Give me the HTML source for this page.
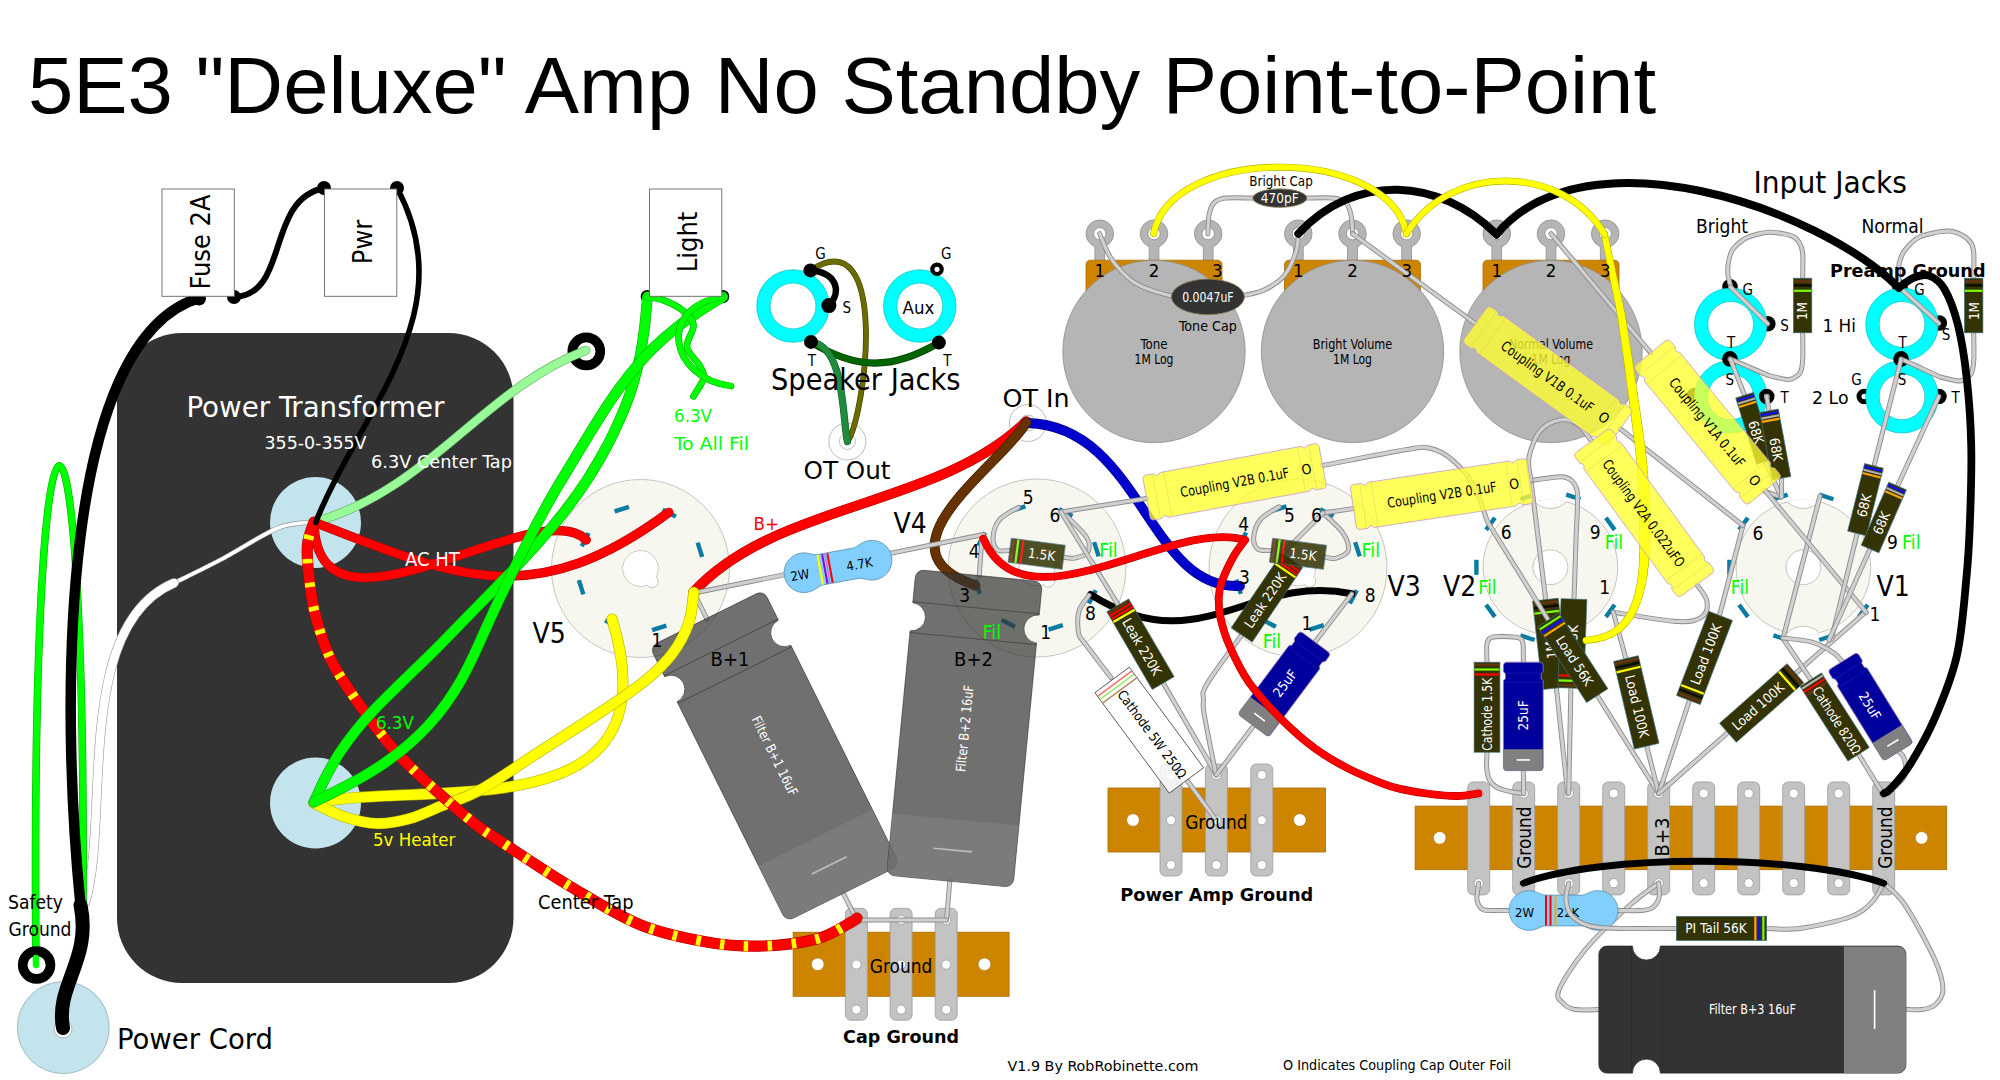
<!DOCTYPE html>
<html><head><meta charset="utf-8"><title>5E3 Deluxe Amp No Standby Point-to-Point</title>
<style>html,body{margin:0;padding:0;background:#fff}svg{display:block}text{white-space:pre}</style></head>
<body>
<svg width="2000" height="1080" viewBox="0 0 2000 1080">
<rect width="2000" height="1080" fill="#fff"/>
<rect x="117" y="333" width="396.5" height="650" fill="#333333" rx="65"/>
<circle cx="315.5" cy="522.5" r="45.5" fill="#c3e3ed"/>
<circle cx="315.5" cy="803" r="45.5" fill="#c3e3ed"/>
<circle cx="63.3" cy="1027.6" r="46" fill="#c3e3ed" stroke="#8fa3aa" stroke-width="0.7"/>
<circle cx="63" cy="1029" r="9" fill="#fff" stroke="#999" stroke-width="0.7"/>
<circle cx="313.5" cy="522.5" r="5" fill="#fff" stroke="#999" stroke-width="0.7"/>
<circle cx="313.5" cy="803" r="5" fill="#fff" stroke="#999" stroke-width="0.7"/>
<circle cx="847.4" cy="441.5" r="18.5" fill="#fff" stroke="#aaa" stroke-width="0.8"/>
<circle cx="847.4" cy="441.5" r="8" fill="#fff" stroke="#aaa" stroke-width="0.8"/>
<circle cx="1027.8" cy="423" r="18.5" fill="#fff" stroke="#aaa" stroke-width="0.8"/>
<circle cx="1027.8" cy="423" r="8" fill="#fff" stroke="#aaa" stroke-width="0.8"/>
<circle cx="640.5" cy="568.5" r="89" fill="#f7f7ef" stroke="#b8b8b0" stroke-width="0.8"/>
<circle cx="640.5" cy="568.5" r="17.8" fill="#fff" stroke="#b8b8b0" stroke-width="0.8"/>
<circle cx="652.0" cy="581.5" r="6.2" fill="#fff" stroke="#b8b8b0" stroke-width="0.8"/>
<circle cx="640.5" cy="568.5" r="17.2" fill="#fff"/>
<rect x="-2.2" y="-7.5" width="4.4" height="15" fill="#0a7ba3" transform="translate(621.8 509.1) rotate(-107.5)"/>
<rect x="-2.2" y="-7.5" width="4.4" height="15" fill="#0a7ba3" transform="translate(669.3 513.2) rotate(-62.5)"/>
<rect x="-2.2" y="-7.5" width="4.4" height="15" fill="#0a7ba3" transform="translate(699.9 549.8) rotate(-17.5)"/>
<rect x="-2.2" y="-7.5" width="4.4" height="15" fill="#0a7ba3" transform="translate(695.8 597.3) rotate(27.5)"/>
<rect x="-2.2" y="-7.5" width="4.4" height="15" fill="#0a7ba3" transform="translate(659.2 627.9) rotate(72.5)"/>
<rect x="-2.2" y="-7.5" width="4.4" height="15" fill="#0a7ba3" transform="translate(611.7 623.8) rotate(117.5)"/>
<rect x="-2.2" y="-7.5" width="4.4" height="15" fill="#0a7ba3" transform="translate(581.1 587.2) rotate(162.5)"/>
<rect x="-2.2" y="-7.5" width="4.4" height="15" fill="#0a7ba3" transform="translate(585.2 539.7) rotate(207.5)"/>
<circle cx="1037" cy="568" r="89" fill="#f7f7ef" stroke="#b8b8b0" stroke-width="0.8"/>
<circle cx="1037" cy="568" r="17.8" fill="#fff" stroke="#b8b8b0" stroke-width="0.8"/>
<circle cx="1048.5" cy="581" r="6.2" fill="#fff" stroke="#b8b8b0" stroke-width="0.8"/>
<circle cx="1037" cy="568" r="17.2" fill="#fff"/>
<rect x="-2.2" y="-7.5" width="4.4" height="15" fill="#0a7ba3" transform="translate(1018.3 508.6) rotate(-107.5)"/>
<rect x="-2.2" y="-7.5" width="4.4" height="15" fill="#0a7ba3" transform="translate(1065.8 512.7) rotate(-62.5)"/>
<rect x="-2.2" y="-7.5" width="4.4" height="15" fill="#0a7ba3" transform="translate(1096.4 549.3) rotate(-17.5)"/>
<rect x="-2.2" y="-7.5" width="4.4" height="15" fill="#0a7ba3" transform="translate(1092.3 596.8) rotate(27.5)"/>
<rect x="-2.2" y="-7.5" width="4.4" height="15" fill="#0a7ba3" transform="translate(1055.7 627.4) rotate(72.5)"/>
<rect x="-2.2" y="-7.5" width="4.4" height="15" fill="#0a7ba3" transform="translate(1008.2 623.3) rotate(117.5)"/>
<rect x="-2.2" y="-7.5" width="4.4" height="15" fill="#0a7ba3" transform="translate(977.6 586.7) rotate(162.5)"/>
<rect x="-2.2" y="-7.5" width="4.4" height="15" fill="#0a7ba3" transform="translate(981.7 539.2) rotate(207.5)"/>
<circle cx="1298" cy="568" r="89" fill="#f7f7ef" stroke="#b8b8b0" stroke-width="0.8"/>
<circle cx="1298" cy="568" r="17.8" fill="#fff" stroke="#b8b8b0" stroke-width="0.8"/>
<circle cx="1309.5" cy="581" r="6.2" fill="#fff" stroke="#b8b8b0" stroke-width="0.8"/>
<circle cx="1298" cy="568" r="17.2" fill="#fff"/>
<rect x="-2.2" y="-7.5" width="4.4" height="15" fill="#0a7ba3" transform="translate(1279.3 508.6) rotate(-107.5)"/>
<rect x="-2.2" y="-7.5" width="4.4" height="15" fill="#0a7ba3" transform="translate(1326.8 512.7) rotate(-62.5)"/>
<rect x="-2.2" y="-7.5" width="4.4" height="15" fill="#0a7ba3" transform="translate(1357.4 549.3) rotate(-17.5)"/>
<rect x="-2.2" y="-7.5" width="4.4" height="15" fill="#0a7ba3" transform="translate(1353.3 596.8) rotate(27.5)"/>
<rect x="-2.2" y="-7.5" width="4.4" height="15" fill="#0a7ba3" transform="translate(1316.7 627.4) rotate(72.5)"/>
<rect x="-2.2" y="-7.5" width="4.4" height="15" fill="#0a7ba3" transform="translate(1269.2 623.3) rotate(117.5)"/>
<rect x="-2.2" y="-7.5" width="4.4" height="15" fill="#0a7ba3" transform="translate(1238.6 586.7) rotate(162.5)"/>
<rect x="-2.2" y="-7.5" width="4.4" height="15" fill="#0a7ba3" transform="translate(1242.7 539.2) rotate(207.5)"/>
<clipPath id="nv1550"><circle cx="1550.4" cy="567.3" r="67.7"/></clipPath>
<circle cx="1550.4" cy="567.3" r="67.3" fill="#f7f7ef" stroke="#b8b8b0" stroke-width="0.8"/>
<circle cx="1550.4" cy="567.3" r="17.4" fill="#fff" stroke="#b8b8b0" stroke-width="0.8"/>
<circle cx="1550.4" cy="486.29999999999995" r="22.2" fill="#fff" stroke="#b8b8b0" stroke-width="0.8" clip-path="url(#nv1550)"/>
<circle cx="1550.4" cy="648.3" r="22.2" fill="#fff" stroke="#b8b8b0" stroke-width="0.8" clip-path="url(#nv1550)"/>
<rect x="-2.2" y="-7.5" width="4.4" height="15" fill="#0a7ba3" transform="translate(1610.3 610.8) rotate(36)"/>
<rect x="-2.2" y="-7.5" width="4.4" height="15" fill="#0a7ba3" transform="translate(1573.3 637.7) rotate(72)"/>
<rect x="-2.2" y="-7.5" width="4.4" height="15" fill="#0a7ba3" transform="translate(1527.5 637.7) rotate(108)"/>
<rect x="-2.2" y="-7.5" width="4.4" height="15" fill="#0a7ba3" transform="translate(1490.5 610.8) rotate(144)"/>
<rect x="-2.2" y="-7.5" width="4.4" height="15" fill="#0a7ba3" transform="translate(1476.4 567.3) rotate(180)"/>
<rect x="-2.2" y="-7.5" width="4.4" height="15" fill="#0a7ba3" transform="translate(1490.5 523.8) rotate(216)"/>
<rect x="-2.2" y="-7.5" width="4.4" height="15" fill="#0a7ba3" transform="translate(1527.5 496.9) rotate(252)"/>
<rect x="-2.2" y="-7.5" width="4.4" height="15" fill="#0a7ba3" transform="translate(1573.3 496.9) rotate(288)"/>
<rect x="-2.2" y="-7.5" width="4.4" height="15" fill="#0a7ba3" transform="translate(1610.3 523.8) rotate(324)"/>
<clipPath id="nv1803"><circle cx="1803.4" cy="567.3" r="67.7"/></clipPath>
<circle cx="1803.4" cy="567.3" r="67.3" fill="#f7f7ef" stroke="#b8b8b0" stroke-width="0.8"/>
<circle cx="1803.4" cy="567.3" r="17.4" fill="#fff" stroke="#b8b8b0" stroke-width="0.8"/>
<circle cx="1803.4" cy="486.29999999999995" r="22.2" fill="#fff" stroke="#b8b8b0" stroke-width="0.8" clip-path="url(#nv1803)"/>
<circle cx="1803.4" cy="648.3" r="22.2" fill="#fff" stroke="#b8b8b0" stroke-width="0.8" clip-path="url(#nv1803)"/>
<rect x="-2.2" y="-7.5" width="4.4" height="15" fill="#0a7ba3" transform="translate(1863.3 610.8) rotate(36)"/>
<rect x="-2.2" y="-7.5" width="4.4" height="15" fill="#0a7ba3" transform="translate(1826.3 637.7) rotate(72)"/>
<rect x="-2.2" y="-7.5" width="4.4" height="15" fill="#0a7ba3" transform="translate(1780.5 637.7) rotate(108)"/>
<rect x="-2.2" y="-7.5" width="4.4" height="15" fill="#0a7ba3" transform="translate(1743.5 610.8) rotate(144)"/>
<rect x="-2.2" y="-7.5" width="4.4" height="15" fill="#0a7ba3" transform="translate(1729.4 567.3) rotate(180)"/>
<rect x="-2.2" y="-7.5" width="4.4" height="15" fill="#0a7ba3" transform="translate(1743.5 523.8) rotate(216)"/>
<rect x="-2.2" y="-7.5" width="4.4" height="15" fill="#0a7ba3" transform="translate(1780.5 496.9) rotate(252)"/>
<rect x="-2.2" y="-7.5" width="4.4" height="15" fill="#0a7ba3" transform="translate(1826.3 496.9) rotate(288)"/>
<rect x="-2.2" y="-7.5" width="4.4" height="15" fill="#0a7ba3" transform="translate(1863.3 523.8) rotate(324)"/>
<rect x="1094.8999999999999" y="240" width="9.8" height="24" fill="#b5b5b5" stroke="#8e8e8e" stroke-width="0.8"/>
<circle cx="1099.8" cy="233.7" r="13.8" fill="#b5b5b5" stroke="#8e8e8e" stroke-width="0.8"/>
<rect x="1095.5" y="243" width="8.6" height="10" fill="#b5b5b5"/>
<circle cx="1099.8" cy="233.7" r="6.1" fill="#fff" stroke="#8e8e8e" stroke-width="0.8"/>
<rect x="1149.1" y="240" width="9.8" height="24" fill="#b5b5b5" stroke="#8e8e8e" stroke-width="0.8"/>
<circle cx="1154" cy="233.7" r="13.8" fill="#b5b5b5" stroke="#8e8e8e" stroke-width="0.8"/>
<rect x="1149.7" y="243" width="8.6" height="10" fill="#b5b5b5"/>
<circle cx="1154" cy="233.7" r="6.1" fill="#fff" stroke="#8e8e8e" stroke-width="0.8"/>
<rect x="1203.3" y="240" width="9.8" height="24" fill="#b5b5b5" stroke="#8e8e8e" stroke-width="0.8"/>
<circle cx="1208.2" cy="233.7" r="13.8" fill="#b5b5b5" stroke="#8e8e8e" stroke-width="0.8"/>
<rect x="1203.9" y="243" width="8.6" height="10" fill="#b5b5b5"/>
<circle cx="1208.2" cy="233.7" r="6.1" fill="#fff" stroke="#8e8e8e" stroke-width="0.8"/>
<path d="M1086,300 V264.5 a4.3,4.3 0 0 1 4.3,-4.3 H1217.7 a4.3,4.3 0 0 1 4.3,4.3 V300 Z" fill="#cd8500" stroke="#a86d00" stroke-width="0.8"/>
<circle cx="1154" cy="351.5" r="91.2" fill="#b5b5b5" stroke="#8e8e8e" stroke-width="0.8"/>
<text transform="translate(1154 344.5) rotate(0)" x="0" y="4.86" text-anchor="middle" font-family="'DejaVu Sans Condensed','Liberation Sans',sans-serif" font-size="13.5" fill="#000" textLength="27" lengthAdjust="spacingAndGlyphs">Tone</text>
<text transform="translate(1154 359.3) rotate(0)" x="0" y="4.86" text-anchor="middle" font-family="'DejaVu Sans Condensed','Liberation Sans',sans-serif" font-size="13.5" fill="#000" textLength="39" lengthAdjust="spacingAndGlyphs">1M Log</text>
<rect x="1293.3999999999999" y="240" width="9.8" height="24" fill="#b5b5b5" stroke="#8e8e8e" stroke-width="0.8"/>
<circle cx="1298.3" cy="233.7" r="13.8" fill="#b5b5b5" stroke="#8e8e8e" stroke-width="0.8"/>
<rect x="1294.0" y="243" width="8.6" height="10" fill="#b5b5b5"/>
<circle cx="1298.3" cy="233.7" r="6.1" fill="#fff" stroke="#8e8e8e" stroke-width="0.8"/>
<rect x="1347.6" y="240" width="9.8" height="24" fill="#b5b5b5" stroke="#8e8e8e" stroke-width="0.8"/>
<circle cx="1352.5" cy="233.7" r="13.8" fill="#b5b5b5" stroke="#8e8e8e" stroke-width="0.8"/>
<rect x="1348.2" y="243" width="8.6" height="10" fill="#b5b5b5"/>
<circle cx="1352.5" cy="233.7" r="6.1" fill="#fff" stroke="#8e8e8e" stroke-width="0.8"/>
<rect x="1401.8" y="240" width="9.8" height="24" fill="#b5b5b5" stroke="#8e8e8e" stroke-width="0.8"/>
<circle cx="1406.7" cy="233.7" r="13.8" fill="#b5b5b5" stroke="#8e8e8e" stroke-width="0.8"/>
<rect x="1402.4" y="243" width="8.6" height="10" fill="#b5b5b5"/>
<circle cx="1406.7" cy="233.7" r="6.1" fill="#fff" stroke="#8e8e8e" stroke-width="0.8"/>
<path d="M1284.5,300 V264.5 a4.3,4.3 0 0 1 4.3,-4.3 H1416.2 a4.3,4.3 0 0 1 4.3,4.3 V300 Z" fill="#cd8500" stroke="#a86d00" stroke-width="0.8"/>
<circle cx="1352.5" cy="351.5" r="91.2" fill="#b5b5b5" stroke="#8e8e8e" stroke-width="0.8"/>
<text transform="translate(1352.5 344.5) rotate(0)" x="0" y="4.86" text-anchor="middle" font-family="'DejaVu Sans Condensed','Liberation Sans',sans-serif" font-size="13.5" fill="#000" textLength="79.5" lengthAdjust="spacingAndGlyphs">Bright Volume</text>
<text transform="translate(1352.5 359.3) rotate(0)" x="0" y="4.86" text-anchor="middle" font-family="'DejaVu Sans Condensed','Liberation Sans',sans-serif" font-size="13.5" fill="#000" textLength="39" lengthAdjust="spacingAndGlyphs">1M Log</text>
<rect x="1491.8999999999999" y="240" width="9.8" height="24" fill="#b5b5b5" stroke="#8e8e8e" stroke-width="0.8"/>
<circle cx="1496.8" cy="233.7" r="13.8" fill="#b5b5b5" stroke="#8e8e8e" stroke-width="0.8"/>
<rect x="1492.5" y="243" width="8.6" height="10" fill="#b5b5b5"/>
<circle cx="1496.8" cy="233.7" r="6.1" fill="#fff" stroke="#8e8e8e" stroke-width="0.8"/>
<rect x="1546.1" y="240" width="9.8" height="24" fill="#b5b5b5" stroke="#8e8e8e" stroke-width="0.8"/>
<circle cx="1551" cy="233.7" r="13.8" fill="#b5b5b5" stroke="#8e8e8e" stroke-width="0.8"/>
<rect x="1546.7" y="243" width="8.6" height="10" fill="#b5b5b5"/>
<circle cx="1551" cy="233.7" r="6.1" fill="#fff" stroke="#8e8e8e" stroke-width="0.8"/>
<rect x="1600.3" y="240" width="9.8" height="24" fill="#b5b5b5" stroke="#8e8e8e" stroke-width="0.8"/>
<circle cx="1605.2" cy="233.7" r="13.8" fill="#b5b5b5" stroke="#8e8e8e" stroke-width="0.8"/>
<rect x="1600.9" y="243" width="8.6" height="10" fill="#b5b5b5"/>
<circle cx="1605.2" cy="233.7" r="6.1" fill="#fff" stroke="#8e8e8e" stroke-width="0.8"/>
<path d="M1483,300 V264.5 a4.3,4.3 0 0 1 4.3,-4.3 H1614.7 a4.3,4.3 0 0 1 4.3,4.3 V300 Z" fill="#cd8500" stroke="#a86d00" stroke-width="0.8"/>
<circle cx="1551" cy="351.5" r="91.2" fill="#b5b5b5" stroke="#8e8e8e" stroke-width="0.8"/>
<text transform="translate(1551 344.5) rotate(0)" x="0" y="4.86" text-anchor="middle" font-family="'DejaVu Sans Condensed','Liberation Sans',sans-serif" font-size="13.5" fill="#000" textLength="84" lengthAdjust="spacingAndGlyphs">Normal Volume</text>
<text transform="translate(1551 359.3) rotate(0)" x="0" y="4.86" text-anchor="middle" font-family="'DejaVu Sans Condensed','Liberation Sans',sans-serif" font-size="13.5" fill="#000" textLength="39" lengthAdjust="spacingAndGlyphs">1M Log</text>
<circle cx="793" cy="306" r="29.6" fill="#fff" stroke="#00ffff" stroke-width="13.4"/>
<circle cx="793" cy="306" r="36.3" fill="none" stroke="#00b4b4" stroke-width="0.6"/>
<circle cx="793" cy="306" r="22.9" fill="none" stroke="#00b4b4" stroke-width="0.6"/>
<circle cx="919.8" cy="306" r="29.6" fill="#fff" stroke="#00ffff" stroke-width="13.4"/>
<circle cx="919.8" cy="306" r="36.3" fill="none" stroke="#00b4b4" stroke-width="0.6"/>
<circle cx="919.8" cy="306" r="22.9" fill="none" stroke="#00b4b4" stroke-width="0.6"/>
<circle cx="1730" cy="286.7" r="7.8" fill="#000"/>
<circle cx="1767.8" cy="323.8" r="7.8" fill="#000"/>
<circle cx="1900" cy="287" r="7.8" fill="#000"/>
<circle cx="1939.3" cy="323" r="7.8" fill="#000"/>
<circle cx="1864.3" cy="396.5" r="7.8" fill="#000"/>
<circle cx="1938.9" cy="396.5" r="7.8" fill="#000"/>
<circle cx="1694.5" cy="395.5" r="7.8" fill="#000"/>
<circle cx="1864.3" cy="396.5" r="2.8" fill="#fff"/>
<circle cx="1730.7" cy="324.4" r="29.6" fill="#fff" stroke="#00ffff" stroke-width="13.4"/>
<circle cx="1730.7" cy="324.4" r="36.3" fill="none" stroke="#00b4b4" stroke-width="0.6"/>
<circle cx="1730.7" cy="324.4" r="22.9" fill="none" stroke="#00b4b4" stroke-width="0.6"/>
<circle cx="1730.7" cy="396.8" r="29.6" fill="#fff" stroke="#00ffff" stroke-width="13.4"/>
<circle cx="1730.7" cy="396.8" r="36.3" fill="none" stroke="#00b4b4" stroke-width="0.6"/>
<circle cx="1730.7" cy="396.8" r="22.9" fill="none" stroke="#00b4b4" stroke-width="0.6"/>
<circle cx="1902" cy="324.4" r="29.6" fill="#fff" stroke="#00ffff" stroke-width="13.4"/>
<circle cx="1902" cy="324.4" r="36.3" fill="none" stroke="#00b4b4" stroke-width="0.6"/>
<circle cx="1902" cy="324.4" r="22.9" fill="none" stroke="#00b4b4" stroke-width="0.6"/>
<circle cx="1902" cy="396.8" r="29.6" fill="#fff" stroke="#00ffff" stroke-width="13.4"/>
<circle cx="1902" cy="396.8" r="36.3" fill="none" stroke="#00b4b4" stroke-width="0.6"/>
<circle cx="1902" cy="396.8" r="22.9" fill="none" stroke="#00b4b4" stroke-width="0.6"/>
<circle cx="1730" cy="358.9" r="7.8" fill="#000"/>
<circle cx="1901.1" cy="358.9" r="7.8" fill="#000"/>
<circle cx="1766.7" cy="396.5" r="7.8" fill="#000"/>
<circle cx="1766.7" cy="396.5" r="2.8" fill="#fff"/>
<rect x="793.1" y="932.2" width="216" height="64.1" fill="#cd8500" stroke="#a86d00" stroke-width="0.8"/>
<circle cx="817.7" cy="964.25" r="6.3" fill="#fff" stroke="#a86d00" stroke-width="0.6"/>
<circle cx="984.5" cy="964.25" r="6.3" fill="#fff" stroke="#a86d00" stroke-width="0.6"/>
<rect x="845.4" y="908.3" width="22" height="111.90000000000009" fill="#c3c3c3" stroke="#9a9a9a" stroke-width="0.8" rx="5.5"/>
<circle cx="856.4" cy="919.9" r="4.6" fill="#fff" stroke="#9a9a9a" stroke-width="0.8"/>
<circle cx="856.4" cy="964.6" r="4.6" fill="#fff" stroke="#9a9a9a" stroke-width="0.8"/>
<circle cx="856.4" cy="1009.6" r="4.6" fill="#fff" stroke="#9a9a9a" stroke-width="0.8"/>
<rect x="890.1" y="908.3" width="22" height="111.90000000000009" fill="#c3c3c3" stroke="#9a9a9a" stroke-width="0.8" rx="5.5"/>
<circle cx="901.1" cy="919.9" r="4.6" fill="#fff" stroke="#9a9a9a" stroke-width="0.8"/>
<circle cx="901.1" cy="964.6" r="4.6" fill="#fff" stroke="#9a9a9a" stroke-width="0.8"/>
<circle cx="901.1" cy="1009.6" r="4.6" fill="#fff" stroke="#9a9a9a" stroke-width="0.8"/>
<rect x="935.2" y="908.3" width="22" height="111.90000000000009" fill="#c3c3c3" stroke="#9a9a9a" stroke-width="0.8" rx="5.5"/>
<circle cx="946.2" cy="919.9" r="4.6" fill="#fff" stroke="#9a9a9a" stroke-width="0.8"/>
<circle cx="946.2" cy="964.6" r="4.6" fill="#fff" stroke="#9a9a9a" stroke-width="0.8"/>
<circle cx="946.2" cy="1009.6" r="4.6" fill="#fff" stroke="#9a9a9a" stroke-width="0.8"/>
<rect x="1108" y="788" width="217.5" height="64" fill="#cd8500" stroke="#a86d00" stroke-width="0.8"/>
<circle cx="1133" cy="820.0" r="6.3" fill="#fff" stroke="#a86d00" stroke-width="0.6"/>
<circle cx="1299.8" cy="820.0" r="6.3" fill="#fff" stroke="#a86d00" stroke-width="0.6"/>
<rect x="1160" y="764" width="22" height="112" fill="#c3c3c3" stroke="#9a9a9a" stroke-width="0.8" rx="5.5"/>
<circle cx="1171" cy="775" r="4.6" fill="#fff" stroke="#9a9a9a" stroke-width="0.8"/>
<circle cx="1171" cy="820.3" r="4.6" fill="#fff" stroke="#9a9a9a" stroke-width="0.8"/>
<circle cx="1171" cy="865" r="4.6" fill="#fff" stroke="#9a9a9a" stroke-width="0.8"/>
<rect x="1205.4" y="764" width="22" height="112" fill="#c3c3c3" stroke="#9a9a9a" stroke-width="0.8" rx="5.5"/>
<circle cx="1216.4" cy="775" r="4.6" fill="#fff" stroke="#9a9a9a" stroke-width="0.8"/>
<circle cx="1216.4" cy="820.3" r="4.6" fill="#fff" stroke="#9a9a9a" stroke-width="0.8"/>
<circle cx="1216.4" cy="865" r="4.6" fill="#fff" stroke="#9a9a9a" stroke-width="0.8"/>
<rect x="1250.8" y="764" width="22" height="112" fill="#c3c3c3" stroke="#9a9a9a" stroke-width="0.8" rx="5.5"/>
<circle cx="1261.8" cy="775" r="4.6" fill="#fff" stroke="#9a9a9a" stroke-width="0.8"/>
<circle cx="1261.8" cy="820.3" r="4.6" fill="#fff" stroke="#9a9a9a" stroke-width="0.8"/>
<circle cx="1261.8" cy="865" r="4.6" fill="#fff" stroke="#9a9a9a" stroke-width="0.8"/>
<rect x="1415.1" y="806.1" width="531.6" height="63.6" fill="#cd8500" stroke="#a86d00" stroke-width="0.8"/>
<circle cx="1439.7" cy="837.9" r="6.3" fill="#fff" stroke="#a86d00" stroke-width="0.6"/>
<circle cx="1921.6" cy="837.9" r="6.3" fill="#fff" stroke="#a86d00" stroke-width="0.6"/>
<rect x="1467.7" y="781.9" width="22" height="113.0" fill="#c3c3c3" stroke="#9a9a9a" stroke-width="0.8" rx="5.5"/>
<circle cx="1478.7" cy="793.5" r="4.6" fill="#fff" stroke="#9a9a9a" stroke-width="0.8"/>
<circle cx="1478.7" cy="883.2" r="4.6" fill="#fff" stroke="#9a9a9a" stroke-width="0.8"/>
<rect x="1512.7" y="781.9" width="22" height="113.0" fill="#c3c3c3" stroke="#9a9a9a" stroke-width="0.8" rx="5.5"/>
<circle cx="1523.7" cy="793.5" r="4.6" fill="#fff" stroke="#9a9a9a" stroke-width="0.8"/>
<circle cx="1523.7" cy="883.2" r="4.6" fill="#fff" stroke="#9a9a9a" stroke-width="0.8"/>
<rect x="1557.7" y="781.9" width="22" height="113.0" fill="#c3c3c3" stroke="#9a9a9a" stroke-width="0.8" rx="5.5"/>
<circle cx="1568.7" cy="793.5" r="4.6" fill="#fff" stroke="#9a9a9a" stroke-width="0.8"/>
<circle cx="1568.7" cy="883.2" r="4.6" fill="#fff" stroke="#9a9a9a" stroke-width="0.8"/>
<rect x="1602.7" y="781.9" width="22" height="113.0" fill="#c3c3c3" stroke="#9a9a9a" stroke-width="0.8" rx="5.5"/>
<circle cx="1613.7" cy="793.5" r="4.6" fill="#fff" stroke="#9a9a9a" stroke-width="0.8"/>
<circle cx="1613.7" cy="883.2" r="4.6" fill="#fff" stroke="#9a9a9a" stroke-width="0.8"/>
<rect x="1647.7" y="781.9" width="22" height="113.0" fill="#c3c3c3" stroke="#9a9a9a" stroke-width="0.8" rx="5.5"/>
<circle cx="1658.7" cy="793.5" r="4.6" fill="#fff" stroke="#9a9a9a" stroke-width="0.8"/>
<circle cx="1658.7" cy="883.2" r="4.6" fill="#fff" stroke="#9a9a9a" stroke-width="0.8"/>
<rect x="1692.7" y="781.9" width="22" height="113.0" fill="#c3c3c3" stroke="#9a9a9a" stroke-width="0.8" rx="5.5"/>
<circle cx="1703.7" cy="793.5" r="4.6" fill="#fff" stroke="#9a9a9a" stroke-width="0.8"/>
<circle cx="1703.7" cy="883.2" r="4.6" fill="#fff" stroke="#9a9a9a" stroke-width="0.8"/>
<rect x="1737.7" y="781.9" width="22" height="113.0" fill="#c3c3c3" stroke="#9a9a9a" stroke-width="0.8" rx="5.5"/>
<circle cx="1748.7" cy="793.5" r="4.6" fill="#fff" stroke="#9a9a9a" stroke-width="0.8"/>
<circle cx="1748.7" cy="883.2" r="4.6" fill="#fff" stroke="#9a9a9a" stroke-width="0.8"/>
<rect x="1782.7" y="781.9" width="22" height="113.0" fill="#c3c3c3" stroke="#9a9a9a" stroke-width="0.8" rx="5.5"/>
<circle cx="1793.7" cy="793.5" r="4.6" fill="#fff" stroke="#9a9a9a" stroke-width="0.8"/>
<circle cx="1793.7" cy="883.2" r="4.6" fill="#fff" stroke="#9a9a9a" stroke-width="0.8"/>
<rect x="1827.7" y="781.9" width="22" height="113.0" fill="#c3c3c3" stroke="#9a9a9a" stroke-width="0.8" rx="5.5"/>
<circle cx="1838.7" cy="793.5" r="4.6" fill="#fff" stroke="#9a9a9a" stroke-width="0.8"/>
<circle cx="1838.7" cy="883.2" r="4.6" fill="#fff" stroke="#9a9a9a" stroke-width="0.8"/>
<rect x="1872.7" y="781.9" width="22" height="113.0" fill="#c3c3c3" stroke="#9a9a9a" stroke-width="0.8" rx="5.5"/>
<circle cx="1883.7" cy="793.5" r="4.6" fill="#fff" stroke="#9a9a9a" stroke-width="0.8"/>
<circle cx="1883.7" cy="883.2" r="4.6" fill="#fff" stroke="#9a9a9a" stroke-width="0.8"/>
<path d="M1090.5,594.5 C1200.0,663.5 1248.6,572.8 1351.8,593.7" fill="none" stroke="#000" stroke-width="7" stroke-linecap="round" stroke-linejoin="round"/>
<path d="M694.0,593.0 L707.0,619.0" fill="none" stroke="#8c8c8c" stroke-width="5.0" stroke-linecap="round" stroke-linejoin="round"/>
<path d="M694.0,593.0 L707.0,619.0" fill="none" stroke="#d0d0d0" stroke-width="3.2" stroke-linecap="round" stroke-linejoin="round"/>
<path d="M843.2,893.4 L857.0,920.0" fill="none" stroke="#8c8c8c" stroke-width="5.0" stroke-linecap="round" stroke-linejoin="round"/>
<path d="M843.2,893.4 L857.0,920.0" fill="none" stroke="#d0d0d0" stroke-width="3.2" stroke-linecap="round" stroke-linejoin="round"/>
<path d="M982.0,538.0 L979.2,575.6" fill="none" stroke="#8c8c8c" stroke-width="5.0" stroke-linecap="round" stroke-linejoin="round"/>
<path d="M982.0,538.0 L979.2,575.6" fill="none" stroke="#d0d0d0" stroke-width="3.2" stroke-linecap="round" stroke-linejoin="round"/>
<path d="M949.8,881.2 L946.5,920.0" fill="none" stroke="#8c8c8c" stroke-width="5.0" stroke-linecap="round" stroke-linejoin="round"/>
<path d="M949.8,881.2 L946.5,920.0" fill="none" stroke="#d0d0d0" stroke-width="3.2" stroke-linecap="round" stroke-linejoin="round"/>
<path d="M1026.4,421.4 C939.0,507.3 774.8,502.4 693.2,592.5" fill="none" stroke="#b40000" stroke-width="10.2" stroke-linecap="round" stroke-linejoin="round"/>
<path d="M1026.4,421.4 C939.0,507.3 774.8,502.4 693.2,592.5" fill="none" stroke="#ff0000" stroke-width="9" stroke-linecap="round" stroke-linejoin="round"/>
<path d="M1027.8,423.0 C1141.1,426.2 1148.0,590.6 1240.0,585.9" fill="none" stroke="#00008a" stroke-width="9.799999999999999" stroke-linecap="round" stroke-linejoin="round"/>
<path d="M1027.8,423.0 C1141.1,426.2 1148.0,590.6 1240.0,585.9" fill="none" stroke="#0000cd" stroke-width="8.6" stroke-linecap="round" stroke-linejoin="round"/>
<path d="M1026.4,422.4 C1001.1,465.6 869.2,549.6 975.4,585.4" fill="none" stroke="#3d1f00" stroke-width="10.0" stroke-linecap="round" stroke-linejoin="round"/>
<path d="M1026.4,422.4 C1001.1,465.6 869.2,549.6 975.4,585.4" fill="none" stroke="#663300" stroke-width="8.8" stroke-linecap="round" stroke-linejoin="round"/>
<path d="M857.0,920.0 L946.2,920.0" fill="none" stroke="#8c8c8c" stroke-width="5.0" stroke-linecap="round" stroke-linejoin="round"/>
<path d="M857.0,920.0 L946.2,920.0" fill="none" stroke="#d0d0d0" stroke-width="3.2" stroke-linecap="round" stroke-linejoin="round"/>
<path d="M694.0,593.0 L983.4,534.5" fill="none" stroke="#8c8c8c" stroke-width="5.0" stroke-linecap="round" stroke-linejoin="round"/>
<path d="M694.0,593.0 L983.4,534.5" fill="none" stroke="#d0d0d0" stroke-width="3.2" stroke-linecap="round" stroke-linejoin="round"/>
<g transform="translate(774.9 755.9) rotate(63.6)">
<g fill-opacity="0.7" stroke-opacity="0.7">
<path d="M-145.5,-63.5 H-120.0 A14,14 0 0 0 -92.0,-63.5 H145.5 a8,8 0 0 1 8,8 V55.5 a8,8 0 0 1 -8,8 H-92.0 A14,14 0 0 0 -120.0,63.5 H-145.5 a8,8 0 0 1 -8,-8 V-55.5 a8,8 0 0 1 8,-8 Z" fill="#333" stroke="#2a2a2a" stroke-width="0.8"/>
<path d="M91.5,-63.1 H145.5 a8,8 0 0 1 8,8 V55.5 a8,8 0 0 1 -8,8 H91.5 Z" fill="#808080"/>
<path d="M-121.1,-63.5 V63.5" stroke="#2a2a2a" stroke-width="0.7" fill="none"/>
<path d="M-90.2,-63.5 V63.5" stroke="#2a2a2a" stroke-width="0.7" fill="none"/>
<path d="M122.19999999999999,-19.4 V19.4" stroke="#d8d8d8" stroke-width="1.6" fill="none"/>
</g>
<text transform="translate(0 0) rotate(0.0)" y="4.86" text-anchor="middle" font-family="'DejaVu Sans Condensed','Liberation Sans',sans-serif" font-size="13.5" fill="#fff" textLength="87" lengthAdjust="spacingAndGlyphs">Filter B+1 16uF</text>
</g>
<g transform="translate(964.5 728.4) rotate(95.5)">
<g fill-opacity="0.7" stroke-opacity="0.7">
<path d="M-145.5,-63.5 H-120.0 A14,14 0 0 0 -92.0,-63.5 H145.5 a8,8 0 0 1 8,8 V55.5 a8,8 0 0 1 -8,8 H-92.0 A14,14 0 0 0 -120.0,63.5 H-145.5 a8,8 0 0 1 -8,-8 V-55.5 a8,8 0 0 1 8,-8 Z" fill="#333" stroke="#2a2a2a" stroke-width="0.8"/>
<path d="M91.5,-63.1 H145.5 a8,8 0 0 1 8,8 V55.5 a8,8 0 0 1 -8,8 H91.5 Z" fill="#808080"/>
<path d="M-121.1,-63.5 V63.5" stroke="#2a2a2a" stroke-width="0.7" fill="none"/>
<path d="M-90.2,-63.5 V63.5" stroke="#2a2a2a" stroke-width="0.7" fill="none"/>
<path d="M122.19999999999999,-19.4 V19.4" stroke="#d8d8d8" stroke-width="1.6" fill="none"/>
</g>
<text transform="translate(0 0) rotate(-180.0)" y="4.86" text-anchor="middle" font-family="'DejaVu Sans Condensed','Liberation Sans',sans-serif" font-size="13.5" fill="#fff" textLength="87" lengthAdjust="spacingAndGlyphs">Filter B+2 16uF</text>
</g>
<path d="M1658.7,883.2 C1653.9,886.8 1642.3,893.9 1630.0,905.0 C1617.7,916.1 1596.8,935.8 1585.0,950.0 C1573.2,964.2 1562.7,981.2 1559.0,990.0 C1555.3,998.8 1560.3,999.8 1563.0,1003.0 C1565.7,1006.2 1568.8,1008.4 1575.0,1009.5 C1581.2,1010.6 1595.8,1009.5 1600.0,1009.5" fill="none" stroke="#8c8c8c" stroke-width="5.0" stroke-linecap="round" stroke-linejoin="round"/>
<path d="M1658.7,883.2 C1653.9,886.8 1642.3,893.9 1630.0,905.0 C1617.7,916.1 1596.8,935.8 1585.0,950.0 C1573.2,964.2 1562.7,981.2 1559.0,990.0 C1555.3,998.8 1560.3,999.8 1563.0,1003.0 C1565.7,1006.2 1568.8,1008.4 1575.0,1009.5 C1581.2,1010.6 1595.8,1009.5 1600.0,1009.5" fill="none" stroke="#d0d0d0" stroke-width="3.2" stroke-linecap="round" stroke-linejoin="round"/>
<path d="M1883.8,883.2 C1887.3,886.8 1896.5,892.2 1905.0,905.0 C1913.5,917.8 1928.7,945.8 1935.0,960.0 C1941.3,974.2 1943.0,982.5 1943.0,990.0 C1943.0,997.5 1938.5,1001.8 1935.0,1005.0 C1931.5,1008.2 1927.0,1008.8 1922.0,1009.5 C1917.0,1010.2 1907.8,1009.5 1905.0,1009.5" fill="none" stroke="#8c8c8c" stroke-width="5.0" stroke-linecap="round" stroke-linejoin="round"/>
<path d="M1883.8,883.2 C1887.3,886.8 1896.5,892.2 1905.0,905.0 C1913.5,917.8 1928.7,945.8 1935.0,960.0 C1941.3,974.2 1943.0,982.5 1943.0,990.0 C1943.0,997.5 1938.5,1001.8 1935.0,1005.0 C1931.5,1008.2 1927.0,1008.8 1922.0,1009.5 C1917.0,1010.2 1907.8,1009.5 1905.0,1009.5" fill="none" stroke="#d0d0d0" stroke-width="3.2" stroke-linecap="round" stroke-linejoin="round"/>
<g transform="translate(1752.4 1009.6) rotate(0)">
<g>
<path d="M-145.5,-63.5 H-120.0 A14,14 0 0 0 -92.0,-63.5 H145.5 a8,8 0 0 1 8,8 V55.5 a8,8 0 0 1 -8,8 H-92.0 A14,14 0 0 0 -120.0,63.5 H-145.5 a8,8 0 0 1 -8,-8 V-55.5 a8,8 0 0 1 8,-8 Z" fill="#333333" stroke="#2a2a2a" stroke-width="0.8"/>
<path d="M91.5,-63.1 H145.5 a8,8 0 0 1 8,8 V55.5 a8,8 0 0 1 -8,8 H91.5 Z" fill="#808080"/>
<path d="M-121.1,-63.5 V63.5" stroke="#2a2a2a" stroke-width="0.7" fill="none"/>
<path d="M-90.2,-63.5 V63.5" stroke="#2a2a2a" stroke-width="0.7" fill="none"/>
<path d="M122.19999999999999,-19.4 V19.4" stroke="#fff" stroke-width="1.6" fill="none"/>
</g>
<text transform="translate(0 0) rotate(0)" y="4.86" text-anchor="middle" font-family="'DejaVu Sans Condensed','Liberation Sans',sans-serif" font-size="13.5" fill="#fff" textLength="87" lengthAdjust="spacingAndGlyphs">Filter B+3 16uF</text>
</g>
<g transform="translate(838 566.5) rotate(-10.4)">
<path d="M-34.7,-19.8 C-25.700000000000003,-19.8 -23.700000000000003,-15.4 -17.700000000000003,-15.4 H17.700000000000003 C23.700000000000003,-15.4 25.700000000000003,-19.8 34.7,-19.8 A19.8,19.8 0 0 1 34.7,19.8 C25.700000000000003,19.8 23.700000000000003,15.4 17.700000000000003,15.4 H-17.700000000000003 C-23.700000000000003,15.4 -25.700000000000003,19.8 -34.7,19.8 A19.8,19.8 0 0 1 -34.7,-19.8 Z" fill="#82cffd" stroke="#5b91b1" stroke-width="0.8"/>
<rect x="-19.200000000000003" y="-15.0" width="2.2" height="30.0" fill="#ffff00"/>
<rect x="-14.399999999999999" y="-15.0" width="2" height="30.0" fill="#9400d3"/>
<rect x="-11.300000000000002" y="-15.0" width="1.2" height="30.0" fill="#c070e0"/>
<rect x="-9.100000000000001" y="-15.0" width="2" height="30.0" fill="#ff0000"/>
<text transform="translate(-39.0 1.5) rotate(0)" y="4.68" text-anchor="middle" font-family="'DejaVu Sans Condensed','Liberation Sans',sans-serif" font-size="13" fill="#000">2W</text>
<text transform="translate(21.5 1.5) rotate(0)" y="4.68" text-anchor="middle" font-family="'DejaVu Sans Condensed','Liberation Sans',sans-serif" font-size="13" fill="#000">4.7K</text>
</g>
<path d="M1478.7,883.2 C1478.4,886.0 1476.3,895.6 1477.0,900.0 C1477.7,904.4 1480.0,907.8 1483.0,909.5 C1486.0,911.2 1490.2,910.3 1495.0,910.5 C1499.8,910.7 1509.2,910.5 1512.0,910.5" fill="none" stroke="#8c8c8c" stroke-width="5.0" stroke-linecap="round" stroke-linejoin="round"/>
<path d="M1478.7,883.2 C1478.4,886.0 1476.3,895.6 1477.0,900.0 C1477.7,904.4 1480.0,907.8 1483.0,909.5 C1486.0,911.2 1490.2,910.3 1495.0,910.5 C1499.8,910.7 1509.2,910.5 1512.0,910.5" fill="none" stroke="#d0d0d0" stroke-width="3.2" stroke-linecap="round" stroke-linejoin="round"/>
<path d="M1658.7,883.2 C1658.8,885.7 1660.1,893.9 1659.0,898.0 C1657.9,902.1 1655.2,905.9 1652.0,908.0 C1648.8,910.1 1645.8,910.1 1640.0,910.5 C1634.2,910.9 1620.8,910.5 1617.0,910.5" fill="none" stroke="#8c8c8c" stroke-width="5.0" stroke-linecap="round" stroke-linejoin="round"/>
<path d="M1658.7,883.2 C1658.8,885.7 1660.1,893.9 1659.0,898.0 C1657.9,902.1 1655.2,905.9 1652.0,908.0 C1648.8,910.1 1645.8,910.1 1640.0,910.5 C1634.2,910.9 1620.8,910.5 1617.0,910.5" fill="none" stroke="#d0d0d0" stroke-width="3.2" stroke-linecap="round" stroke-linejoin="round"/>
<g transform="translate(1563.5 910.5) rotate(0)">
<path d="M-34.7,-19.8 C-25.700000000000003,-19.8 -23.700000000000003,-15.4 -17.700000000000003,-15.4 H17.700000000000003 C23.700000000000003,-15.4 25.700000000000003,-19.8 34.7,-19.8 A19.8,19.8 0 0 1 34.7,19.8 C25.700000000000003,19.8 23.700000000000003,15.4 17.700000000000003,15.4 H-17.700000000000003 C-23.700000000000003,15.4 -25.700000000000003,19.8 -34.7,19.8 A19.8,19.8 0 0 1 -34.7,-19.8 Z" fill="#82cffd" stroke="#5b91b1" stroke-width="0.8"/>
<rect x="-18.5" y="-15.0" width="2" height="30.0" fill="#ff0000"/>
<rect x="-14.0" y="-15.0" width="2" height="30.0" fill="#ff0000"/>
<rect x="-9.0" y="-15.0" width="2" height="30.0" fill="#ffa500"/>
<text transform="translate(-39.0 1.5) rotate(0)" y="4.68" text-anchor="middle" font-family="'DejaVu Sans Condensed','Liberation Sans',sans-serif" font-size="13" fill="#000">2W</text>
<text transform="translate(4.5 1.5) rotate(0)" y="4.68" text-anchor="middle" font-family="'DejaVu Sans Condensed','Liberation Sans',sans-serif" font-size="13" fill="#000">22K</text>
</g>
<path d="M1568.7,883.2 C1568.2,886.0 1565.5,894.5 1566.0,900.0 C1566.5,905.5 1568.0,911.7 1572.0,916.0 C1576.0,920.3 1582.0,923.9 1590.0,926.0 C1598.0,928.1 1605.0,928.0 1620.0,928.4 C1635.0,928.8 1670.0,928.4 1680.0,928.4" fill="none" stroke="#8c8c8c" stroke-width="5.0" stroke-linecap="round" stroke-linejoin="round"/>
<path d="M1568.7,883.2 C1568.2,886.0 1565.5,894.5 1566.0,900.0 C1566.5,905.5 1568.0,911.7 1572.0,916.0 C1576.0,920.3 1582.0,923.9 1590.0,926.0 C1598.0,928.1 1605.0,928.0 1620.0,928.4 C1635.0,928.8 1670.0,928.4 1680.0,928.4" fill="none" stroke="#d0d0d0" stroke-width="3.2" stroke-linecap="round" stroke-linejoin="round"/>
<path d="M1883.8,883.2 C1881.8,886.3 1877.6,896.4 1872.0,902.0 C1866.4,907.6 1862.0,912.6 1850.0,917.0 C1838.0,921.4 1814.0,926.5 1800.0,928.4 C1786.0,930.3 1771.7,928.4 1766.0,928.4" fill="none" stroke="#8c8c8c" stroke-width="5.0" stroke-linecap="round" stroke-linejoin="round"/>
<path d="M1883.8,883.2 C1881.8,886.3 1877.6,896.4 1872.0,902.0 C1866.4,907.6 1862.0,912.6 1850.0,917.0 C1838.0,921.4 1814.0,926.5 1800.0,928.4 C1786.0,930.3 1771.7,928.4 1766.0,928.4" fill="none" stroke="#d0d0d0" stroke-width="3.2" stroke-linecap="round" stroke-linejoin="round"/>
<g transform="translate(1721.5 928.4) rotate(180)">
<g>
<rect x="-45.15" y="-12.1" width="90.3" height="24.2" fill="#333304" stroke="#3f6f80" stroke-width="0.7"/>
<rect x="-42.95" y="-11.7" width="2.2" height="23.4" fill="#7cfc00"/>
<rect x="-38.95" y="-11.7" width="2.2" height="23.4" fill="#1010ff"/>
<rect x="-34.949999999999996" y="-11.7" width="2.2" height="23.4" fill="#ffa500"/>
</g>
<text transform="translate(5.5 0) rotate(-180)" y="4.86" text-anchor="middle" font-family="'DejaVu Sans Condensed','Liberation Sans',sans-serif" font-size="13.5" fill="#fff">PI Tail 56K</text>
</g>
<path d="M1207.9,233.7 C1208.1,230.6 1208.0,220.1 1209.0,215.0 C1210.0,209.9 1211.3,205.8 1214.0,203.0 C1216.7,200.2 1218.5,198.9 1225.0,198.1 C1231.5,197.3 1248.3,198.1 1253.0,198.1" fill="none" stroke="#8c8c8c" stroke-width="5.0" stroke-linecap="round" stroke-linejoin="round"/>
<path d="M1207.9,233.7 C1208.1,230.6 1208.0,220.1 1209.0,215.0 C1210.0,209.9 1211.3,205.8 1214.0,203.0 C1216.7,200.2 1218.5,198.9 1225.0,198.1 C1231.5,197.3 1248.3,198.1 1253.0,198.1" fill="none" stroke="#d0d0d0" stroke-width="3.2" stroke-linecap="round" stroke-linejoin="round"/>
<path d="M1306.0,198.1 C1310.5,198.1 1326.3,197.3 1333.0,198.1 C1339.7,198.9 1343.0,200.2 1346.0,203.0 C1349.0,205.8 1349.9,209.9 1351.0,215.0 C1352.1,220.1 1352.5,230.6 1352.8,233.7" fill="none" stroke="#8c8c8c" stroke-width="5.0" stroke-linecap="round" stroke-linejoin="round"/>
<path d="M1306.0,198.1 C1310.5,198.1 1326.3,197.3 1333.0,198.1 C1339.7,198.9 1343.0,200.2 1346.0,203.0 C1349.0,205.8 1349.9,209.9 1351.0,215.0 C1352.1,220.1 1352.5,230.6 1352.8,233.7" fill="none" stroke="#d0d0d0" stroke-width="3.2" stroke-linecap="round" stroke-linejoin="round"/>
<ellipse cx="1279.8" cy="198.1" rx="27" ry="9.2" fill="#333" stroke="#8a7a50" stroke-width="0.9"/>
<path d="M1099.7,233.7 C1101.5,237.7 1105.5,250.1 1110.7,257.8 C1115.9,265.6 1124.3,274.8 1131.1,280.2 C1137.9,285.6 1144.7,287.7 1151.5,290.3 C1158.3,292.9 1168.6,295.1 1172.0,296.0" fill="none" stroke="#8c8c8c" stroke-width="5.0" stroke-linecap="round" stroke-linejoin="round"/>
<path d="M1099.7,233.7 C1101.5,237.7 1105.5,250.1 1110.7,257.8 C1115.9,265.6 1124.3,274.8 1131.1,280.2 C1137.9,285.6 1144.7,287.7 1151.5,290.3 C1158.3,292.9 1168.6,295.1 1172.0,296.0" fill="none" stroke="#d0d0d0" stroke-width="3.2" stroke-linecap="round" stroke-linejoin="round"/>
<path d="M1244.1,295.4 C1247.3,294.5 1256.9,293.5 1263.5,290.3 C1270.1,287.1 1278.5,282.6 1283.9,276.1 C1289.3,269.7 1293.7,258.7 1296.1,251.6 C1298.5,244.5 1297.9,236.7 1298.3,233.7" fill="none" stroke="#8c8c8c" stroke-width="5.0" stroke-linecap="round" stroke-linejoin="round"/>
<path d="M1244.1,295.4 C1247.3,294.5 1256.9,293.5 1263.5,290.3 C1270.1,287.1 1278.5,282.6 1283.9,276.1 C1289.3,269.7 1293.7,258.7 1296.1,251.6 C1298.5,244.5 1297.9,236.7 1298.3,233.7" fill="none" stroke="#d0d0d0" stroke-width="3.2" stroke-linecap="round" stroke-linejoin="round"/>
<ellipse cx="1207.9" cy="296.9" rx="36.5" ry="17.8" fill="#333" stroke="#8a7a50" stroke-width="0.9"/>
<path d="M1010.0,550.4 C1007.9,550.3 1000.2,552.2 997.4,550.0 C994.6,547.8 992.6,542.3 993.0,537.2 C993.4,532.1 995.4,524.6 999.6,519.6 C1003.8,514.6 1015.2,509.5 1018.3,507.5" fill="none" stroke="#8c8c8c" stroke-width="5.0" stroke-linecap="round" stroke-linejoin="round"/>
<path d="M1010.0,550.4 C1007.9,550.3 1000.2,552.2 997.4,550.0 C994.6,547.8 992.6,542.3 993.0,537.2 C993.4,532.1 995.4,524.6 999.6,519.6 C1003.8,514.6 1015.2,509.5 1018.3,507.5" fill="none" stroke="#d0d0d0" stroke-width="3.2" stroke-linecap="round" stroke-linejoin="round"/>
<path d="M1063.6,557.2 C1065.4,557.4 1070.4,558.9 1074.4,558.1 C1078.4,557.3 1085.6,556.1 1087.6,552.6 C1089.6,549.1 1090.5,543.8 1086.5,537.2 C1082.5,530.6 1067.2,517.0 1063.4,513.0" fill="none" stroke="#8c8c8c" stroke-width="5.0" stroke-linecap="round" stroke-linejoin="round"/>
<path d="M1063.6,557.2 C1065.4,557.4 1070.4,558.9 1074.4,558.1 C1078.4,557.3 1085.6,556.1 1087.6,552.6 C1089.6,549.1 1090.5,543.8 1086.5,537.2 C1082.5,530.6 1067.2,517.0 1063.4,513.0" fill="none" stroke="#d0d0d0" stroke-width="3.2" stroke-linecap="round" stroke-linejoin="round"/>
<path d="M1271.0,550.4 C1268.8,550.2 1261.0,551.5 1258.1,549.3 C1255.2,547.1 1253.3,542.2 1253.7,537.2 C1254.1,532.2 1256.1,524.7 1260.3,519.6 C1264.5,514.5 1275.9,508.9 1279.0,506.8" fill="none" stroke="#8c8c8c" stroke-width="5.0" stroke-linecap="round" stroke-linejoin="round"/>
<path d="M1271.0,550.4 C1268.8,550.2 1261.0,551.5 1258.1,549.3 C1255.2,547.1 1253.3,542.2 1253.7,537.2 C1254.1,532.2 1256.1,524.7 1260.3,519.6 C1264.5,514.5 1275.9,508.9 1279.0,506.8" fill="none" stroke="#d0d0d0" stroke-width="3.2" stroke-linecap="round" stroke-linejoin="round"/>
<path d="M1324.9,557.2 C1326.8,557.4 1332.3,559.2 1336.2,558.1 C1340.1,557.0 1347.2,554.6 1348.3,550.4 C1349.4,546.2 1347.0,539.0 1342.8,532.8 C1338.6,526.6 1326.3,516.3 1323.0,513.0" fill="none" stroke="#8c8c8c" stroke-width="5.0" stroke-linecap="round" stroke-linejoin="round"/>
<path d="M1324.9,557.2 C1326.8,557.4 1332.3,559.2 1336.2,558.1 C1340.1,557.0 1347.2,554.6 1348.3,550.4 C1349.4,546.2 1347.0,539.0 1342.8,532.8 C1338.6,526.6 1326.3,516.3 1323.0,513.0" fill="none" stroke="#d0d0d0" stroke-width="3.2" stroke-linecap="round" stroke-linejoin="round"/>
<path d="M1061.0,512.0 L1146.5,498.5" fill="none" stroke="#8c8c8c" stroke-width="5.0" stroke-linecap="round" stroke-linejoin="round"/>
<path d="M1061.0,512.0 L1146.5,498.5" fill="none" stroke="#d0d0d0" stroke-width="3.2" stroke-linecap="round" stroke-linejoin="round"/>
<path d="M1061.0,512.0 L1118.4,605.4" fill="none" stroke="#8c8c8c" stroke-width="5.0" stroke-linecap="round" stroke-linejoin="round"/>
<path d="M1061.0,512.0 L1118.4,605.4" fill="none" stroke="#d0d0d0" stroke-width="3.2" stroke-linecap="round" stroke-linejoin="round"/>
<path d="M1323.0,513.0 L1353.0,508.6" fill="none" stroke="#8c8c8c" stroke-width="5.0" stroke-linecap="round" stroke-linejoin="round"/>
<path d="M1323.0,513.0 L1353.0,508.6" fill="none" stroke="#d0d0d0" stroke-width="3.2" stroke-linecap="round" stroke-linejoin="round"/>
<path d="M1323.0,513.0 L1281.0,555.0" fill="none" stroke="#8c8c8c" stroke-width="5.0" stroke-linecap="round" stroke-linejoin="round"/>
<path d="M1323.0,513.0 L1281.0,555.0" fill="none" stroke="#d0d0d0" stroke-width="3.2" stroke-linecap="round" stroke-linejoin="round"/>
<path d="M1163.1,682.8 L1216.4,775.0" fill="none" stroke="#8c8c8c" stroke-width="5.0" stroke-linecap="round" stroke-linejoin="round"/>
<path d="M1163.1,682.8 L1216.4,775.0" fill="none" stroke="#d0d0d0" stroke-width="3.2" stroke-linecap="round" stroke-linejoin="round"/>
<path d="M1089.0,595.3 C1087.3,597.9 1080.8,604.7 1079.0,611.0 C1077.2,617.3 1077.8,628.0 1078.5,633.0 C1079.2,638.0 1082.2,639.7 1083.0,641.0 L1111.1,677.8" fill="none" stroke="#8c8c8c" stroke-width="5.0" stroke-linecap="round" stroke-linejoin="round"/>
<path d="M1089.0,595.3 C1087.3,597.9 1080.8,604.7 1079.0,611.0 C1077.2,617.3 1077.8,628.0 1078.5,633.0 C1079.2,638.0 1082.2,639.7 1083.0,641.0 L1111.1,677.8" fill="none" stroke="#d0d0d0" stroke-width="3.2" stroke-linecap="round" stroke-linejoin="round"/>
<path d="M1241.6,635.0 C1235.8,643.2 1213.0,673.6 1206.7,684.4 C1200.4,695.2 1203.9,694.8 1203.5,700.0 C1203.1,705.2 1202.3,703.1 1204.4,715.6 C1206.5,728.1 1214.1,765.1 1216.0,775.0" fill="none" stroke="#8c8c8c" stroke-width="5.0" stroke-linecap="round" stroke-linejoin="round"/>
<path d="M1241.6,635.0 C1235.8,643.2 1213.0,673.6 1206.7,684.4 C1200.4,695.2 1203.9,694.8 1203.5,700.0 C1203.1,705.2 1202.3,703.1 1204.4,715.6 C1206.5,728.1 1214.1,765.1 1216.0,775.0" fill="none" stroke="#d0d0d0" stroke-width="3.2" stroke-linecap="round" stroke-linejoin="round"/>
<path d="M1186.7,780.0 L1214.6,818.0" fill="none" stroke="#8c8c8c" stroke-width="5.0" stroke-linecap="round" stroke-linejoin="round"/>
<path d="M1186.7,780.0 L1214.6,818.0" fill="none" stroke="#d0d0d0" stroke-width="3.2" stroke-linecap="round" stroke-linejoin="round"/>
<path d="M1315.0,642.0 L1351.8,594.0" fill="none" stroke="#8c8c8c" stroke-width="5.0" stroke-linecap="round" stroke-linejoin="round"/>
<path d="M1315.0,642.0 L1351.8,594.0" fill="none" stroke="#d0d0d0" stroke-width="3.2" stroke-linecap="round" stroke-linejoin="round"/>
<path d="M1253.4,726.0 L1216.4,775.0" fill="none" stroke="#8c8c8c" stroke-width="5.0" stroke-linecap="round" stroke-linejoin="round"/>
<path d="M1253.4,726.0 L1216.4,775.0" fill="none" stroke="#d0d0d0" stroke-width="3.2" stroke-linecap="round" stroke-linejoin="round"/>
<g transform="translate(1036.7 553.8) rotate(7.4)">
<g opacity="0.86">
<rect x="-27.25" y="-12.15" width="54.5" height="24.3" fill="#333304" stroke="#3f6f80" stroke-width="0.7"/>
<rect x="-25.85" y="-11.75" width="2.2" height="23.5" fill="#6a3410"/>
<rect x="-21.05" y="-11.75" width="2.2" height="23.5" fill="#7cfc00"/>
<rect x="-16.05" y="-11.75" width="2.2" height="23.5" fill="#ff0000"/>
</g>
<text transform="translate(5 0) rotate(0.0)" y="4.86" text-anchor="middle" font-family="'DejaVu Sans Condensed','Liberation Sans',sans-serif" font-size="13.5" fill="#fff">1.5K</text>
</g>
<g transform="translate(1266.9 597.7) rotate(124.1)">
<g>
<rect x="-45.0" y="-12.65" width="90" height="25.3" fill="#333304" stroke="#3f6f80" stroke-width="0.7"/>
<rect x="-43.9" y="-12.25" width="2.2" height="24.5" fill="#6a3410"/>
<rect x="-40.9" y="-12.25" width="2.2" height="24.5" fill="#ff0000"/>
<rect x="-37.4" y="-12.25" width="2.2" height="24.5" fill="#ff0000"/>
<rect x="-33.9" y="-12.25" width="2.2" height="24.5" fill="#ffff00"/>
</g>
<text transform="translate(3 0) rotate(-180.0)" y="4.86" text-anchor="middle" font-family="'DejaVu Sans Condensed','Liberation Sans',sans-serif" font-size="13.5" fill="#fff">Leak 220K</text>
</g>
<g transform="translate(1298 553.8) rotate(7.4)">
<g opacity="0.86">
<rect x="-27.25" y="-12.15" width="54.5" height="24.3" fill="#333304" stroke="#3f6f80" stroke-width="0.7"/>
<rect x="-25.85" y="-11.75" width="2.2" height="23.5" fill="#6a3410"/>
<rect x="-21.05" y="-11.75" width="2.2" height="23.5" fill="#7cfc00"/>
<rect x="-16.05" y="-11.75" width="2.2" height="23.5" fill="#ff0000"/>
</g>
<text transform="translate(5 0) rotate(0.0)" y="4.86" text-anchor="middle" font-family="'DejaVu Sans Condensed','Liberation Sans',sans-serif" font-size="13.5" fill="#fff">1.5K</text>
</g>
<g transform="translate(1140.5 644.2) rotate(59.7)">
<g>
<rect x="-45.0" y="-12.65" width="90" height="25.3" fill="#333304" stroke="#3f6f80" stroke-width="0.7"/>
<rect x="-43.9" y="-12.25" width="2.2" height="24.5" fill="#6a3410"/>
<rect x="-40.9" y="-12.25" width="2.2" height="24.5" fill="#ff0000"/>
<rect x="-37.4" y="-12.25" width="2.2" height="24.5" fill="#ff0000"/>
<rect x="-33.9" y="-12.25" width="2.2" height="24.5" fill="#ffff00"/>
</g>
<text transform="translate(3 0) rotate(0.0)" y="4.86" text-anchor="middle" font-family="'DejaVu Sans Condensed','Liberation Sans',sans-serif" font-size="13.5" fill="#fff">Leak 220K</text>
</g>
<g transform="translate(1149.25 730.2) rotate(53.5)">
<rect x="-62.5" y="-21.4" width="125" height="42.8" fill="#fff" stroke="#444" stroke-width="0.8" fill-opacity="0.8"/>
<rect x="-58.7" y="-21" width="1.4" height="42" fill="#ff6a6a"/>
<rect x="-54.7" y="-21" width="1.4" height="42" fill="#8fe84a"/>
<rect x="-50.2" y="-21" width="1.4" height="42" fill="#b08868"/>
<text transform="translate(5 0) rotate(0)" y="4.86" text-anchor="middle" font-family="'DejaVu Sans Condensed','Liberation Sans',sans-serif" font-size="13.5" fill="#000" textLength="106" lengthAdjust="spacingAndGlyphs">Cathode 5W 250Ω</text>
</g>
<g transform="translate(1284.3 684) rotate(126.8)">
<path d="M-48.5,-19.3 H-42.5 l2.2,2 H-35.5 l2.2,-2 H48.5 a3.5,3.5 0 0 1 3.5,3.5 V15.8 a3.5,3.5 0 0 1 -3.5,3.5 H-33.3 l-2.2,-2 H-40.3 l-2.2,2 H-48.5 a3.5,3.5 0 0 1 -3.5,-3.5 V-15.8 a3.5,3.5 0 0 1 3.5,-3.5 Z" fill="#00009c" stroke="#9a7ab0" stroke-width="0.8"/>
<path d="M30.6,-18.900000000000002 H48.5 a3.5,3.5 0 0 1 3.5,3.5 V15.8 a3.5,3.5 0 0 1 -3.5,3.5 H30.6 Z" fill="#808080"/>
<path d="M-41.0,-17.3 V17.3" stroke="#1a1ab4" stroke-width="0.7" fill="none"/>
<path d="M-32.0,-17.3 V17.3" stroke="#1a1ab4" stroke-width="0.7" fill="none"/>
<path d="M41.3,-6.6 V6.6" stroke="#fff" stroke-width="1.6" fill="none"/>
<text transform="translate(-1 0) rotate(-180.0)" y="4.86" text-anchor="middle" font-family="'DejaVu Sans Condensed','Liberation Sans',sans-serif" font-size="13.5" fill="#fff">25uF</text>
</g>
<path d="M1531.0,480.5 L1545.6,599.0" fill="none" stroke="#8c8c8c" stroke-width="5.0" stroke-linecap="round" stroke-linejoin="round"/>
<path d="M1531.0,480.5 L1545.6,599.0" fill="none" stroke="#d0d0d0" stroke-width="3.2" stroke-linecap="round" stroke-linejoin="round"/>
<path d="M1556.5,689.0 L1567.7,793.5" fill="none" stroke="#8c8c8c" stroke-width="5.0" stroke-linecap="round" stroke-linejoin="round"/>
<path d="M1556.5,689.0 L1567.7,793.5" fill="none" stroke="#d0d0d0" stroke-width="3.2" stroke-linecap="round" stroke-linejoin="round"/>
<g transform="translate(1550.35 643.9) rotate(83.6)">
<g>
<rect x="-44.5" y="-12.9" width="89" height="25.8" fill="#333304" stroke="#3f6f80" stroke-width="0.7"/>
<rect x="-42.4" y="-12.5" width="2.2" height="25.0" fill="#6a3410"/>
<rect x="-38.4" y="-12.5" width="2.2" height="25.0" fill="#0a0a00"/>
<rect x="-33.0" y="-12.5" width="2.2" height="25.0" fill="#7cfc00"/>
</g>
<text transform="translate(6 0) rotate(-180.0)" y="4.86" text-anchor="middle" font-family="'DejaVu Sans Condensed','Liberation Sans',sans-serif" font-size="13.5" fill="#fff">1M</text>
</g>
<path d="M1531.0,480.5 C1534.9,480.0 1555.0,476.7 1560.5,476.8 C1566.0,476.9 1569.7,478.7 1572.0,481.0 C1574.3,483.3 1577.0,486.1 1577.5,494.0 C1578.0,501.9 1576.5,525.9 1576.0,540.0 C1575.5,554.1 1574.3,591.6 1574.0,599.5" fill="none" stroke="#8c8c8c" stroke-width="5.0" stroke-linecap="round" stroke-linejoin="round"/>
<path d="M1531.0,480.5 C1534.9,480.0 1555.0,476.7 1560.5,476.8 C1566.0,476.9 1569.7,478.7 1572.0,481.0 C1574.3,483.3 1577.0,486.1 1577.5,494.0 C1578.0,501.9 1576.5,525.9 1576.0,540.0 C1575.5,554.1 1574.3,591.6 1574.0,599.5" fill="none" stroke="#d0d0d0" stroke-width="3.2" stroke-linecap="round" stroke-linejoin="round"/>
<path d="M1570.9,688.0 L1568.7,793.5" fill="none" stroke="#8c8c8c" stroke-width="5.0" stroke-linecap="round" stroke-linejoin="round"/>
<path d="M1570.9,688.0 L1568.7,793.5" fill="none" stroke="#d0d0d0" stroke-width="3.2" stroke-linecap="round" stroke-linejoin="round"/>
<g transform="translate(1572.4 643.6) rotate(-88)">
<g>
<rect x="-44.5" y="-12.9" width="89" height="25.8" fill="#333304" stroke="#3f6f80" stroke-width="0.7"/>
<rect x="-43.1" y="-12.5" width="2.2" height="25.0" fill="#6a3410"/>
<rect x="-38.300000000000004" y="-12.5" width="2.2" height="25.0" fill="#7cfc00"/>
<rect x="-33.300000000000004" y="-12.5" width="2.2" height="25.0" fill="#ff0000"/>
</g>
<text transform="translate(5 0) rotate(0)" y="4.86" text-anchor="middle" font-family="'DejaVu Sans Condensed','Liberation Sans',sans-serif" font-size="13.5" fill="#fff">1.5K</text>
</g>
<path d="M1487.0,663.0 C1487.0,661.0 1486.5,648.8 1486.7,646.0 C1486.9,643.2 1488.0,640.1 1489.0,639.0 C1490.0,637.9 1492.3,636.9 1495.5,636.7 C1498.7,636.5 1513.0,636.9 1516.0,637.2 C1519.0,637.5 1520.7,638.5 1521.5,639.5 C1522.3,640.5 1523.0,643.3 1523.2,646.0 C1523.4,648.7 1523.3,661.0 1523.3,663.0" fill="none" stroke="#8c8c8c" stroke-width="5.0" stroke-linecap="round" stroke-linejoin="round"/>
<path d="M1487.0,663.0 C1487.0,661.0 1486.5,648.8 1486.7,646.0 C1486.9,643.2 1488.0,640.1 1489.0,639.0 C1490.0,637.9 1492.3,636.9 1495.5,636.7 C1498.7,636.5 1513.0,636.9 1516.0,637.2 C1519.0,637.5 1520.7,638.5 1521.5,639.5 C1522.3,640.5 1523.0,643.3 1523.2,646.0 C1523.4,648.7 1523.3,661.0 1523.3,663.0" fill="none" stroke="#d0d0d0" stroke-width="3.2" stroke-linecap="round" stroke-linejoin="round"/>
<path d="M1487.0,752.0 C1487.0,754.7 1486.3,763.3 1486.7,768.0 C1487.1,772.7 1487.8,776.8 1489.5,780.0 C1491.2,783.2 1493.6,785.6 1497.0,787.5 C1500.4,789.4 1505.5,790.5 1510.0,791.5 C1514.5,792.5 1521.4,793.2 1523.7,793.5" fill="none" stroke="#8c8c8c" stroke-width="5.0" stroke-linecap="round" stroke-linejoin="round"/>
<path d="M1487.0,752.0 C1487.0,754.7 1486.3,763.3 1486.7,768.0 C1487.1,772.7 1487.8,776.8 1489.5,780.0 C1491.2,783.2 1493.6,785.6 1497.0,787.5 C1500.4,789.4 1505.5,790.5 1510.0,791.5 C1514.5,792.5 1521.4,793.2 1523.7,793.5" fill="none" stroke="#d0d0d0" stroke-width="3.2" stroke-linecap="round" stroke-linejoin="round"/>
<path d="M1523.3,770.0 L1523.7,793.5" fill="none" stroke="#8c8c8c" stroke-width="5.0" stroke-linecap="round" stroke-linejoin="round"/>
<path d="M1523.3,770.0 L1523.7,793.5" fill="none" stroke="#d0d0d0" stroke-width="3.2" stroke-linecap="round" stroke-linejoin="round"/>
<g transform="translate(1487 707.2) rotate(90)">
<g>
<rect x="-45.0" y="-12.9" width="90" height="25.8" fill="#333304" stroke="#3f6f80" stroke-width="0.7"/>
<rect x="-43.6" y="-12.5" width="2.2" height="25.0" fill="#6a3410"/>
<rect x="-38.800000000000004" y="-12.5" width="2.2" height="25.0" fill="#7cfc00"/>
<rect x="-33.800000000000004" y="-12.5" width="2.2" height="25.0" fill="#ff0000"/>
</g>
<text transform="translate(7 0) rotate(-180)" y="4.86" text-anchor="middle" font-family="'DejaVu Sans Condensed','Liberation Sans',sans-serif" font-size="13.5" fill="#fff" textLength="73" lengthAdjust="spacingAndGlyphs">Cathode 1.5K</text>
</g>
<g transform="translate(1523.3 716.4) rotate(90)">
<path d="M-50.75,-19.9 H-44.75 l2.2,2 H-37.75 l2.2,-2 H50.75 a3.5,3.5 0 0 1 3.5,3.5 V16.4 a3.5,3.5 0 0 1 -3.5,3.5 H-35.55 l-2.2,-2 H-42.55 l-2.2,2 H-50.75 a3.5,3.5 0 0 1 -3.5,-3.5 V-16.4 a3.5,3.5 0 0 1 3.5,-3.5 Z" fill="#00009c" stroke="#9a7ab0" stroke-width="0.8"/>
<path d="M32.85,-19.5 H50.75 a3.5,3.5 0 0 1 3.5,3.5 V16.4 a3.5,3.5 0 0 1 -3.5,3.5 H32.85 Z" fill="#808080"/>
<path d="M-43.25,-17.9 V17.9" stroke="#1a1ab4" stroke-width="0.7" fill="none"/>
<path d="M-34.25,-17.9 V17.9" stroke="#1a1ab4" stroke-width="0.7" fill="none"/>
<path d="M43.55,-6.6 V6.6" stroke="#fff" stroke-width="1.6" fill="none"/>
<text transform="translate(-1 0) rotate(-180)" y="4.86" text-anchor="middle" font-family="'DejaVu Sans Condensed','Liberation Sans',sans-serif" font-size="13.5" fill="#fff">25uF</text>
</g>
<path d="M1322.6,465.5 C1336.5,462.9 1387.9,452.6 1405.8,449.7 C1423.7,446.8 1422.3,446.5 1430.0,448.2 C1437.7,449.9 1444.7,453.3 1452.0,459.6 C1459.3,465.9 1468.1,475.7 1474.0,486.0 C1479.9,496.3 1485.0,515.3 1487.2,521.2 L1548.3,620" fill="none" stroke="#8c8c8c" stroke-width="5.0" stroke-linecap="round" stroke-linejoin="round"/>
<path d="M1322.6,465.5 C1336.5,462.9 1387.9,452.6 1405.8,449.7 C1423.7,446.8 1422.3,446.5 1430.0,448.2 C1437.7,449.9 1444.7,453.3 1452.0,459.6 C1459.3,465.9 1468.1,475.7 1474.0,486.0 C1479.9,496.3 1485.0,515.3 1487.2,521.2 L1548.3,620" fill="none" stroke="#d0d0d0" stroke-width="3.2" stroke-linecap="round" stroke-linejoin="round"/>
<path d="M1597.3,695.5 L1658.7,793.5" fill="none" stroke="#8c8c8c" stroke-width="5.0" stroke-linecap="round" stroke-linejoin="round"/>
<path d="M1597.3,695.5 L1658.7,793.5" fill="none" stroke="#d0d0d0" stroke-width="3.2" stroke-linecap="round" stroke-linejoin="round"/>
<g transform="translate(1572.8 657.8) rotate(57.1)">
<g>
<rect x="-45.0" y="-12.65" width="90" height="25.3" fill="#333304" stroke="#3f6f80" stroke-width="0.7"/>
<rect x="-42.800000000000004" y="-12.25" width="2.2" height="24.5" fill="#7cfc00"/>
<rect x="-38.800000000000004" y="-12.25" width="2.2" height="24.5" fill="#1010ff"/>
<rect x="-34.800000000000004" y="-12.25" width="2.2" height="24.5" fill="#ffa500"/>
</g>
<text transform="translate(3.5 0) rotate(0.0)" y="4.86" text-anchor="middle" font-family="'DejaVu Sans Condensed','Liberation Sans',sans-serif" font-size="13.5" fill="#fff">Load 56K</text>
</g>
<path d="M1591.3,440.6 C1589.0,437.9 1583.0,427.8 1577.8,424.4 C1572.6,421.0 1566.3,418.9 1560.0,420.0 C1553.7,421.1 1545.2,424.8 1540.0,431.1 C1534.8,437.4 1530.4,449.6 1528.9,457.8 C1527.4,466.0 1530.7,476.7 1531.0,480.5" fill="none" stroke="#8c8c8c" stroke-width="5.0" stroke-linecap="round" stroke-linejoin="round"/>
<path d="M1591.3,440.6 C1589.0,437.9 1583.0,427.8 1577.8,424.4 C1572.6,421.0 1566.3,418.9 1560.0,420.0 C1553.7,421.1 1545.2,424.8 1540.0,431.1 C1534.8,437.4 1530.4,449.6 1528.9,457.8 C1527.4,466.0 1530.7,476.7 1531.0,480.5" fill="none" stroke="#d0d0d0" stroke-width="3.2" stroke-linecap="round" stroke-linejoin="round"/>
<path d="M1697.1,585.0 C1698.7,587.7 1706.1,595.7 1706.9,601.0 C1707.8,606.3 1707.2,613.4 1702.2,616.8 C1697.2,620.2 1691.8,622.3 1677.0,621.5 C1662.2,620.7 1623.9,613.8 1613.3,612.2" fill="none" stroke="#8c8c8c" stroke-width="5.0" stroke-linecap="round" stroke-linejoin="round"/>
<path d="M1697.1,585.0 C1698.7,587.7 1706.1,595.7 1706.9,601.0 C1707.8,606.3 1707.2,613.4 1702.2,616.8 C1697.2,620.2 1691.8,622.3 1677.0,621.5 C1662.2,620.7 1623.9,613.8 1613.3,612.2" fill="none" stroke="#d0d0d0" stroke-width="3.2" stroke-linecap="round" stroke-linejoin="round"/>
<path d="M1625.9,658.8 L1613.3,612.2" fill="none" stroke="#8c8c8c" stroke-width="5.0" stroke-linecap="round" stroke-linejoin="round"/>
<path d="M1625.9,658.8 L1613.3,612.2" fill="none" stroke="#d0d0d0" stroke-width="3.2" stroke-linecap="round" stroke-linejoin="round"/>
<path d="M1646.7,746.0 L1658.7,793.5" fill="none" stroke="#8c8c8c" stroke-width="5.0" stroke-linecap="round" stroke-linejoin="round"/>
<path d="M1646.7,746.0 L1658.7,793.5" fill="none" stroke="#d0d0d0" stroke-width="3.2" stroke-linecap="round" stroke-linejoin="round"/>
<g transform="translate(1636.3 702.4) rotate(76.7)">
<g>
<rect x="-45.0" y="-12.65" width="90" height="25.3" fill="#333304" stroke="#3f6f80" stroke-width="0.7"/>
<rect x="-43.300000000000004" y="-12.25" width="2.2" height="24.5" fill="#6a3410"/>
<rect x="-39.300000000000004" y="-12.25" width="2.2" height="24.5" fill="#0a0a00"/>
<rect x="-34.800000000000004" y="-12.25" width="2.2" height="24.5" fill="#ffff00"/>
</g>
<text transform="translate(4 0) rotate(0.0)" y="4.86" text-anchor="middle" font-family="'DejaVu Sans Condensed','Liberation Sans',sans-serif" font-size="13.5" fill="#fff">Load 100K</text>
</g>
<path d="M1719.5,615.5 L1743.0,525.5" fill="none" stroke="#8c8c8c" stroke-width="5.0" stroke-linecap="round" stroke-linejoin="round"/>
<path d="M1719.5,615.5 L1743.0,525.5" fill="none" stroke="#d0d0d0" stroke-width="3.2" stroke-linecap="round" stroke-linejoin="round"/>
<path d="M1689.5,700.2 L1658.7,793.5" fill="none" stroke="#8c8c8c" stroke-width="5.0" stroke-linecap="round" stroke-linejoin="round"/>
<path d="M1689.5,700.2 L1658.7,793.5" fill="none" stroke="#d0d0d0" stroke-width="3.2" stroke-linecap="round" stroke-linejoin="round"/>
<g transform="translate(1704.5 657.9) rotate(-69)">
<g>
<rect x="-45.0" y="-12.65" width="90" height="25.3" fill="#333304" stroke="#3f6f80" stroke-width="0.7"/>
<rect x="-43.300000000000004" y="-12.25" width="2.2" height="24.5" fill="#6a3410"/>
<rect x="-39.300000000000004" y="-12.25" width="2.2" height="24.5" fill="#0a0a00"/>
<rect x="-34.800000000000004" y="-12.25" width="2.2" height="24.5" fill="#ffff00"/>
</g>
<text transform="translate(4 0) rotate(0)" y="4.86" text-anchor="middle" font-family="'DejaVu Sans Condensed','Liberation Sans',sans-serif" font-size="13.5" fill="#fff">Load 100K</text>
</g>
<path d="M1795.0,673.9 L1865.6,612.2" fill="none" stroke="#8c8c8c" stroke-width="5.0" stroke-linecap="round" stroke-linejoin="round"/>
<path d="M1795.0,673.9 L1865.6,612.2" fill="none" stroke="#d0d0d0" stroke-width="3.2" stroke-linecap="round" stroke-linejoin="round"/>
<path d="M1728.4,732.2 L1658.7,793.5" fill="none" stroke="#8c8c8c" stroke-width="5.0" stroke-linecap="round" stroke-linejoin="round"/>
<path d="M1728.4,732.2 L1658.7,793.5" fill="none" stroke="#d0d0d0" stroke-width="3.2" stroke-linecap="round" stroke-linejoin="round"/>
<g transform="translate(1761.7 703) rotate(138.6)">
<g>
<rect x="-45.0" y="-12.65" width="90" height="25.3" fill="#333304" stroke="#3f6f80" stroke-width="0.7"/>
<rect x="-43.300000000000004" y="-12.25" width="2.2" height="24.5" fill="#6a3410"/>
<rect x="-39.300000000000004" y="-12.25" width="2.2" height="24.5" fill="#0a0a00"/>
<rect x="-34.800000000000004" y="-12.25" width="2.2" height="24.5" fill="#ffff00"/>
</g>
<text transform="translate(5 0) rotate(-180.0)" y="4.86" text-anchor="middle" font-family="'DejaVu Sans Condensed','Liberation Sans',sans-serif" font-size="13.5" fill="#fff">Load 100K</text>
</g>
<path d="M1820.0,496.0 L1783.0,638.5" fill="none" stroke="#8c8c8c" stroke-width="5.0" stroke-linecap="round" stroke-linejoin="round"/>
<path d="M1820.0,496.0 L1783.0,638.5" fill="none" stroke="#d0d0d0" stroke-width="3.2" stroke-linecap="round" stroke-linejoin="round"/>
<path d="M1783.0,638.5 L1811.1,680.0" fill="none" stroke="#8c8c8c" stroke-width="5.0" stroke-linecap="round" stroke-linejoin="round"/>
<path d="M1783.0,638.5 L1811.1,680.0" fill="none" stroke="#d0d0d0" stroke-width="3.2" stroke-linecap="round" stroke-linejoin="round"/>
<path d="M1858.3,753.9 L1882.7,793.5" fill="none" stroke="#8c8c8c" stroke-width="5.0" stroke-linecap="round" stroke-linejoin="round"/>
<path d="M1858.3,753.9 L1882.7,793.5" fill="none" stroke="#d0d0d0" stroke-width="3.2" stroke-linecap="round" stroke-linejoin="round"/>
<path d="M1783.0,638.0 C1787.9,638.7 1803.6,639.7 1812.2,642.2 C1820.8,644.8 1829.4,650.0 1834.4,653.3 C1839.4,656.5 1840.9,660.3 1842.2,661.7" fill="none" stroke="#8c8c8c" stroke-width="5.0" stroke-linecap="round" stroke-linejoin="round"/>
<path d="M1783.0,638.0 C1787.9,638.7 1803.6,639.7 1812.2,642.2 C1820.8,644.8 1829.4,650.0 1834.4,653.3 C1839.4,656.5 1840.9,660.3 1842.2,661.7" fill="none" stroke="#d0d0d0" stroke-width="3.2" stroke-linecap="round" stroke-linejoin="round"/>
<path d="M1898.9,751.7 C1899.8,752.8 1902.9,754.4 1904.0,758.0 C1905.1,761.6 1906.8,768.8 1905.6,773.3 C1904.4,777.8 1900.7,781.6 1897.0,785.0 C1893.3,788.4 1885.9,792.1 1883.7,793.5" fill="none" stroke="#8c8c8c" stroke-width="5.0" stroke-linecap="round" stroke-linejoin="round"/>
<path d="M1898.9,751.7 C1899.8,752.8 1902.9,754.4 1904.0,758.0 C1905.1,761.6 1906.8,768.8 1905.6,773.3 C1904.4,777.8 1900.7,781.6 1897.0,785.0 C1893.3,788.4 1885.9,792.1 1883.7,793.5" fill="none" stroke="#d0d0d0" stroke-width="3.2" stroke-linecap="round" stroke-linejoin="round"/>
<g transform="translate(1834.7 717) rotate(57.3)">
<g>
<rect x="-44.25" y="-12.65" width="88.5" height="25.3" fill="#333304" stroke="#3f6f80" stroke-width="0.7"/>
<rect x="-42.550000000000004" y="-12.25" width="2.2" height="24.5" fill="#b0b0b0"/>
<rect x="-38.550000000000004" y="-12.25" width="2.2" height="24.5" fill="#ff0000"/>
<rect x="-34.550000000000004" y="-12.25" width="2.2" height="24.5" fill="#6a3410"/>
</g>
<text transform="translate(4 0) rotate(0.0)" y="4.86" text-anchor="middle" font-family="'DejaVu Sans Condensed','Liberation Sans',sans-serif" font-size="13.5" fill="#fff" textLength="77" lengthAdjust="spacingAndGlyphs">Cathode 820Ω</text>
</g>
<g transform="translate(1870.5 706.7) rotate(58.3)">
<path d="M-49.8,-17.4 H-43.8 l2.2,2 H-36.8 l2.2,-2 H49.8 a3.5,3.5 0 0 1 3.5,3.5 V13.899999999999999 a3.5,3.5 0 0 1 -3.5,3.5 H-34.599999999999994 l-2.2,-2 H-41.599999999999994 l-2.2,2 H-49.8 a3.5,3.5 0 0 1 -3.5,-3.5 V-13.899999999999999 a3.5,3.5 0 0 1 3.5,-3.5 Z" fill="#00009c" stroke="#9a7ab0" stroke-width="0.8"/>
<path d="M31.9,-17.0 H49.8 a3.5,3.5 0 0 1 3.5,3.5 V13.899999999999999 a3.5,3.5 0 0 1 -3.5,3.5 H31.9 Z" fill="#808080"/>
<path d="M-42.3,-15.399999999999999 V15.399999999999999" stroke="#1a1ab4" stroke-width="0.7" fill="none"/>
<path d="M-33.3,-15.399999999999999 V15.399999999999999" stroke="#1a1ab4" stroke-width="0.7" fill="none"/>
<path d="M42.599999999999994,-6.6 V6.6" stroke="#fff" stroke-width="1.6" fill="none"/>
<text transform="translate(-1 0) rotate(0.0)" y="4.86" text-anchor="middle" font-family="'DejaVu Sans Condensed','Liberation Sans',sans-serif" font-size="13.5" fill="#fff">25uF</text>
</g>
<path d="M1352.5,233.7 L1475.3,323.5" fill="none" stroke="#8c8c8c" stroke-width="5.0" stroke-linecap="round" stroke-linejoin="round"/>
<path d="M1352.5,233.7 L1475.3,323.5" fill="none" stroke="#d0d0d0" stroke-width="3.2" stroke-linecap="round" stroke-linejoin="round"/>
<path d="M1620.2,428.7 L1743.0,525.5" fill="none" stroke="#8c8c8c" stroke-width="5.0" stroke-linecap="round" stroke-linejoin="round"/>
<path d="M1620.2,428.7 L1743.0,525.5" fill="none" stroke="#d0d0d0" stroke-width="3.2" stroke-linecap="round" stroke-linejoin="round"/>
<path d="M1551.0,233.7 L1650.7,352.8" fill="none" stroke="#8c8c8c" stroke-width="5.0" stroke-linecap="round" stroke-linejoin="round"/>
<path d="M1551.0,233.7 L1650.7,352.8" fill="none" stroke="#d0d0d0" stroke-width="3.2" stroke-linecap="round" stroke-linejoin="round"/>
<path d="M1764.3,491.2 L1781.0,497.0" fill="none" stroke="#8c8c8c" stroke-width="5.0" stroke-linecap="round" stroke-linejoin="round"/>
<path d="M1764.3,491.2 L1781.0,497.0" fill="none" stroke="#d0d0d0" stroke-width="3.2" stroke-linecap="round" stroke-linejoin="round"/>
<path d="M1765.0,490.5 L1866.3,612.5" fill="none" stroke="#8c8c8c" stroke-width="5.0" stroke-linecap="round" stroke-linejoin="round"/>
<path d="M1765.0,490.5 L1866.3,612.5" fill="none" stroke="#d0d0d0" stroke-width="3.2" stroke-linecap="round" stroke-linejoin="round"/>
<path d="M1802.7,279.0 C1802.7,275.6 1803.2,258.2 1802.7,253.3 C1802.2,248.4 1800.5,244.4 1799.0,242.0 C1797.5,239.6 1795.1,236.9 1791.1,235.6 C1787.1,234.3 1774.8,231.9 1768.9,232.2 C1763.0,232.5 1751.5,235.6 1746.7,237.8 C1741.9,240.0 1735.4,245.8 1733.0,249.0 C1730.6,252.2 1729.2,258.5 1728.5,262.0 C1727.8,265.5 1727.7,271.6 1728.0,275.0 C1728.3,278.4 1730.7,286.1 1731.1,287.8" fill="none" stroke="#8c8c8c" stroke-width="5.0" stroke-linecap="round" stroke-linejoin="round"/>
<path d="M1802.7,279.0 C1802.7,275.6 1803.2,258.2 1802.7,253.3 C1802.2,248.4 1800.5,244.4 1799.0,242.0 C1797.5,239.6 1795.1,236.9 1791.1,235.6 C1787.1,234.3 1774.8,231.9 1768.9,232.2 C1763.0,232.5 1751.5,235.6 1746.7,237.8 C1741.9,240.0 1735.4,245.8 1733.0,249.0 C1730.6,252.2 1729.2,258.5 1728.5,262.0 C1727.8,265.5 1727.7,271.6 1728.0,275.0 C1728.3,278.4 1730.7,286.1 1731.1,287.8" fill="none" stroke="#d0d0d0" stroke-width="3.2" stroke-linecap="round" stroke-linejoin="round"/>
<path d="M1730.5,287.0 L1767.8,323.8" fill="none" stroke="#8c8c8c" stroke-width="5.0" stroke-linecap="round" stroke-linejoin="round"/>
<path d="M1730.5,287.0 L1767.8,323.8" fill="none" stroke="#d0d0d0" stroke-width="3.2" stroke-linecap="round" stroke-linejoin="round"/>
<path d="M1802.7,332.0 C1802.7,335.7 1803.1,354.5 1802.7,360.0 C1802.3,365.5 1801.8,370.4 1800.0,373.0 C1798.2,375.6 1793.0,379.3 1788.9,379.6 C1784.8,379.9 1771.6,376.1 1768.9,375.6 L1730,358.9" fill="none" stroke="#8c8c8c" stroke-width="5.0" stroke-linecap="round" stroke-linejoin="round"/>
<path d="M1802.7,332.0 C1802.7,335.7 1803.1,354.5 1802.7,360.0 C1802.3,365.5 1801.8,370.4 1800.0,373.0 C1798.2,375.6 1793.0,379.3 1788.9,379.6 C1784.8,379.9 1771.6,376.1 1768.9,375.6 L1730,358.9" fill="none" stroke="#d0d0d0" stroke-width="3.2" stroke-linecap="round" stroke-linejoin="round"/>
<path d="M1973.7,279.0 C1973.7,275.6 1974.2,258.1 1973.8,253.3 C1973.4,248.5 1972.6,245.4 1971.0,243.0 C1969.4,240.6 1965.2,236.6 1962.0,235.0 C1958.8,233.4 1952.3,230.9 1946.7,231.1 C1941.1,231.3 1925.6,234.2 1920.0,236.7 C1914.4,239.2 1907.7,246.6 1905.0,250.0 C1902.3,253.4 1900.4,258.7 1899.5,262.0 C1898.6,265.3 1898.4,271.6 1898.5,275.0 C1898.6,278.4 1899.8,286.1 1900.0,287.8" fill="none" stroke="#8c8c8c" stroke-width="5.0" stroke-linecap="round" stroke-linejoin="round"/>
<path d="M1973.7,279.0 C1973.7,275.6 1974.2,258.1 1973.8,253.3 C1973.4,248.5 1972.6,245.4 1971.0,243.0 C1969.4,240.6 1965.2,236.6 1962.0,235.0 C1958.8,233.4 1952.3,230.9 1946.7,231.1 C1941.1,231.3 1925.6,234.2 1920.0,236.7 C1914.4,239.2 1907.7,246.6 1905.0,250.0 C1902.3,253.4 1900.4,258.7 1899.5,262.0 C1898.6,265.3 1898.4,271.6 1898.5,275.0 C1898.6,278.4 1899.8,286.1 1900.0,287.8" fill="none" stroke="#d0d0d0" stroke-width="3.2" stroke-linecap="round" stroke-linejoin="round"/>
<path d="M1900.0,287.8 L1938.9,323.3" fill="none" stroke="#8c8c8c" stroke-width="5.0" stroke-linecap="round" stroke-linejoin="round"/>
<path d="M1900.0,287.8 L1938.9,323.3" fill="none" stroke="#d0d0d0" stroke-width="3.2" stroke-linecap="round" stroke-linejoin="round"/>
<path d="M1973.7,332.0 C1973.7,335.7 1974.2,354.4 1973.8,360.0 C1973.4,365.6 1972.8,371.2 1971.0,374.0 C1969.2,376.8 1964.1,380.6 1960.0,381.0 C1955.9,381.4 1942.7,377.5 1940.0,377.0 L1901.1,358.9" fill="none" stroke="#8c8c8c" stroke-width="5.0" stroke-linecap="round" stroke-linejoin="round"/>
<path d="M1973.7,332.0 C1973.7,335.7 1974.2,354.4 1973.8,360.0 C1973.4,365.6 1972.8,371.2 1971.0,374.0 C1969.2,376.8 1964.1,380.6 1960.0,381.0 C1955.9,381.4 1942.7,377.5 1940.0,377.0 L1901.1,358.9" fill="none" stroke="#d0d0d0" stroke-width="3.2" stroke-linecap="round" stroke-linejoin="round"/>
<g transform="translate(1802.6 305.5) rotate(90)">
<g>
<rect x="-27.3" y="-9.2" width="54.6" height="18.4" fill="#333304" stroke="#3f6f80" stroke-width="0.7"/>
<rect x="-25.200000000000003" y="-8.799999999999999" width="2.2" height="17.599999999999998" fill="#6a3410"/>
<rect x="-21.200000000000003" y="-8.799999999999999" width="2.2" height="17.599999999999998" fill="#0a0a00"/>
<rect x="-15.8" y="-8.799999999999999" width="2.2" height="17.599999999999998" fill="#7cfc00"/>
</g>
<text transform="translate(5.5 0) rotate(-180)" y="4.86" text-anchor="middle" font-family="'DejaVu Sans Condensed','Liberation Sans',sans-serif" font-size="13.5" fill="#fff">1M</text>
</g>
<g transform="translate(1973.7 305.5) rotate(90)">
<g>
<rect x="-27.3" y="-9.2" width="54.6" height="18.4" fill="#333304" stroke="#3f6f80" stroke-width="0.7"/>
<rect x="-25.200000000000003" y="-8.799999999999999" width="2.2" height="17.599999999999998" fill="#6a3410"/>
<rect x="-21.200000000000003" y="-8.799999999999999" width="2.2" height="17.599999999999998" fill="#0a0a00"/>
<rect x="-15.8" y="-8.799999999999999" width="2.2" height="17.599999999999998" fill="#7cfc00"/>
</g>
<text transform="translate(5.5 0) rotate(-180)" y="4.86" text-anchor="middle" font-family="'DejaVu Sans Condensed','Liberation Sans',sans-serif" font-size="13.5" fill="#fff">1M</text>
</g>
<path d="M1730.5,359.3 L1744.5,395.0" fill="none" stroke="#8c8c8c" stroke-width="5.0" stroke-linecap="round" stroke-linejoin="round"/>
<path d="M1730.5,359.3 L1744.5,395.0" fill="none" stroke="#d0d0d0" stroke-width="3.2" stroke-linecap="round" stroke-linejoin="round"/>
<path d="M1765.5,461.8 L1781.0,497.0" fill="none" stroke="#8c8c8c" stroke-width="5.0" stroke-linecap="round" stroke-linejoin="round"/>
<path d="M1765.5,461.8 L1781.0,497.0" fill="none" stroke="#d0d0d0" stroke-width="3.2" stroke-linecap="round" stroke-linejoin="round"/>
<g transform="translate(1755 428.4) rotate(72.6)">
<g>
<rect x="-34.75" y="-9.3" width="69.5" height="18.6" fill="#333304" stroke="#3f6f80" stroke-width="0.7"/>
<rect x="-32.85" y="-8.9" width="2.2" height="17.8" fill="#1010ff"/>
<rect x="-29.650000000000002" y="-8.9" width="2.2" height="17.8" fill="#b0b0b0"/>
<rect x="-26.25" y="-8.9" width="2.2" height="17.8" fill="#ffa500"/>
</g>
<text transform="translate(4 0) rotate(0.0)" y="4.86" text-anchor="middle" font-family="'DejaVu Sans Condensed','Liberation Sans',sans-serif" font-size="13.5" fill="#fff">68K</text>
</g>
<path d="M1766.7,396.5 L1769.0,411.0" fill="none" stroke="#8c8c8c" stroke-width="5.0" stroke-linecap="round" stroke-linejoin="round"/>
<path d="M1766.7,396.5 L1769.0,411.0" fill="none" stroke="#d0d0d0" stroke-width="3.2" stroke-linecap="round" stroke-linejoin="round"/>
<path d="M1781.6,478.0 L1781.5,497.0" fill="none" stroke="#8c8c8c" stroke-width="5.0" stroke-linecap="round" stroke-linejoin="round"/>
<path d="M1781.6,478.0 L1781.5,497.0" fill="none" stroke="#d0d0d0" stroke-width="3.2" stroke-linecap="round" stroke-linejoin="round"/>
<g transform="translate(1775.3 444.5) rotate(79.5)">
<g>
<rect x="-34.25" y="-9.4" width="68.5" height="18.8" fill="#333304" stroke="#3f6f80" stroke-width="0.7"/>
<rect x="-32.35" y="-9.0" width="2.2" height="18.0" fill="#1010ff"/>
<rect x="-29.150000000000002" y="-9.0" width="2.2" height="18.0" fill="#b0b0b0"/>
<rect x="-25.75" y="-9.0" width="2.2" height="18.0" fill="#ffa500"/>
</g>
<text transform="translate(5 0) rotate(0.0)" y="4.86" text-anchor="middle" font-family="'DejaVu Sans Condensed','Liberation Sans',sans-serif" font-size="13.5" fill="#fff">68K</text>
</g>
<path d="M1901.1,359.3 L1874.5,463.8" fill="none" stroke="#8c8c8c" stroke-width="5.0" stroke-linecap="round" stroke-linejoin="round"/>
<path d="M1901.1,359.3 L1874.5,463.8" fill="none" stroke="#d0d0d0" stroke-width="3.2" stroke-linecap="round" stroke-linejoin="round"/>
<path d="M1857.0,533.8 L1831.5,639.0" fill="none" stroke="#8c8c8c" stroke-width="5.0" stroke-linecap="round" stroke-linejoin="round"/>
<path d="M1857.0,533.8 L1831.5,639.0" fill="none" stroke="#d0d0d0" stroke-width="3.2" stroke-linecap="round" stroke-linejoin="round"/>
<g transform="translate(1865.5 499.7) rotate(104.1)">
<g>
<rect x="-34.8" y="-9.6" width="69.6" height="19.2" fill="#333304" stroke="#3f6f80" stroke-width="0.7"/>
<rect x="-32.9" y="-9.2" width="2.2" height="18.4" fill="#1010ff"/>
<rect x="-29.7" y="-9.2" width="2.2" height="18.4" fill="#b0b0b0"/>
<rect x="-26.299999999999997" y="-9.2" width="2.2" height="18.4" fill="#ffa500"/>
</g>
<text transform="translate(6 0) rotate(-180.0)" y="4.86" text-anchor="middle" font-family="'DejaVu Sans Condensed','Liberation Sans',sans-serif" font-size="13.5" fill="#fff">68K</text>
</g>
<path d="M1938.8,396.5 L1897.5,486.0" fill="none" stroke="#8c8c8c" stroke-width="5.0" stroke-linecap="round" stroke-linejoin="round"/>
<path d="M1938.8,396.5 L1897.5,486.0" fill="none" stroke="#d0d0d0" stroke-width="3.2" stroke-linecap="round" stroke-linejoin="round"/>
<path d="M1870.0,549.0 L1829.0,640.0" fill="none" stroke="#8c8c8c" stroke-width="5.0" stroke-linecap="round" stroke-linejoin="round"/>
<path d="M1870.0,549.0 L1829.0,640.0" fill="none" stroke="#d0d0d0" stroke-width="3.2" stroke-linecap="round" stroke-linejoin="round"/>
<g transform="translate(1883.8 517.5) rotate(113.6)">
<g>
<rect x="-34.35" y="-9.6" width="68.7" height="19.2" fill="#333304" stroke="#3f6f80" stroke-width="0.7"/>
<rect x="-32.45" y="-9.2" width="2.2" height="18.4" fill="#1010ff"/>
<rect x="-29.250000000000004" y="-9.2" width="2.2" height="18.4" fill="#b0b0b0"/>
<rect x="-25.85" y="-9.2" width="2.2" height="18.4" fill="#ffa500"/>
</g>
<text transform="translate(6 0) rotate(-180.0)" y="4.86" text-anchor="middle" font-family="'DejaVu Sans Condensed','Liberation Sans',sans-serif" font-size="13.5" fill="#fff">68K</text>
</g>
<path d="M1604.6,234.4 L1606.4,243.2" stroke="#b4b400" stroke-width="7.1" stroke-linecap="round" fill="none"/>
<path d="M1606.4,243.2 L1608.2,252.1" stroke="#b4b400" stroke-width="7.2" stroke-linecap="round" fill="none"/>
<path d="M1608.2,252.1 L1610.0,260.9" stroke="#b4b400" stroke-width="7.3" stroke-linecap="round" fill="none"/>
<path d="M1610.0,260.9 L1611.8,269.8" stroke="#b4b400" stroke-width="7.5" stroke-linecap="round" fill="none"/>
<path d="M1611.8,269.8 L1613.6,278.6" stroke="#b4b400" stroke-width="7.6" stroke-linecap="round" fill="none"/>
<path d="M1613.6,278.6 L1615.5,287.4" stroke="#b4b400" stroke-width="7.7" stroke-linecap="round" fill="none"/>
<path d="M1615.5,287.4 L1617.4,296.2" stroke="#b4b400" stroke-width="7.9" stroke-linecap="round" fill="none"/>
<path d="M1617.4,296.2 L1619.3,305.0" stroke="#b4b400" stroke-width="8.0" stroke-linecap="round" fill="none"/>
<path d="M1619.3,305.0 L1621.0,313.9" stroke="#b4b400" stroke-width="8.2" stroke-linecap="round" fill="none"/>
<path d="M1621.0,313.9 L1622.5,322.8" stroke="#b4b400" stroke-width="8.3" stroke-linecap="round" fill="none"/>
<path d="M1622.5,322.8 L1623.8,331.7" stroke="#b4b400" stroke-width="8.5" stroke-linecap="round" fill="none"/>
<path d="M1623.8,331.7 L1625.2,340.6" stroke="#b4b400" stroke-width="8.6" stroke-linecap="round" fill="none"/>
<path d="M1625.2,340.6 L1626.5,349.6" stroke="#b4b400" stroke-width="8.8" stroke-linecap="round" fill="none"/>
<path d="M1626.5,349.6 L1627.8,358.5" stroke="#b4b400" stroke-width="8.9" stroke-linecap="round" fill="none"/>
<path d="M1627.8,358.5 L1629.1,367.4" stroke="#b4b400" stroke-width="9.1" stroke-linecap="round" fill="none"/>
<path d="M1629.1,367.4 L1630.3,376.4" stroke="#b4b400" stroke-width="9.2" stroke-linecap="round" fill="none"/>
<path d="M1630.3,376.4 L1631.6,385.3" stroke="#b4b400" stroke-width="9.4" stroke-linecap="round" fill="none"/>
<path d="M1631.6,385.3 L1632.9,394.2" stroke="#b4b400" stroke-width="9.5" stroke-linecap="round" fill="none"/>
<path d="M1632.9,394.2 L1634.2,403.2" stroke="#b4b400" stroke-width="9.7" stroke-linecap="round" fill="none"/>
<path d="M1634.2,403.2 L1635.4,412.1" stroke="#b4b400" stroke-width="9.8" stroke-linecap="round" fill="none"/>
<path d="M1635.4,412.1 L1636.6,421.0" stroke="#b4b400" stroke-width="10.0" stroke-linecap="round" fill="none"/>
<path d="M1636.6,421.0 L1637.8,430.0" stroke="#b4b400" stroke-width="10.1" stroke-linecap="round" fill="none"/>
<path d="M1637.8,430.0 L1639.0,438.9" stroke="#b4b400" stroke-width="10.2" stroke-linecap="round" fill="none"/>
<path d="M1639.0,438.9 L1640.2,447.9" stroke="#b4b400" stroke-width="10.3" stroke-linecap="round" fill="none"/>
<path d="M1640.2,447.9 L1641.2,456.8" stroke="#b4b400" stroke-width="10.4" stroke-linecap="round" fill="none"/>
<path d="M1641.2,456.8 L1642.1,465.8" stroke="#b4b400" stroke-width="10.4" stroke-linecap="round" fill="none"/>
<path d="M1642.1,465.8 L1642.8,474.8" stroke="#b4b400" stroke-width="10.5" stroke-linecap="round" fill="none"/>
<path d="M1642.8,474.8 L1643.4,483.8" stroke="#b4b400" stroke-width="10.6" stroke-linecap="round" fill="none"/>
<path d="M1643.4,483.8 L1644.0,492.8" stroke="#b4b400" stroke-width="10.7" stroke-linecap="round" fill="none"/>
<path d="M1644.0,492.8 L1644.4,501.8" stroke="#b4b400" stroke-width="10.7" stroke-linecap="round" fill="none"/>
<path d="M1644.4,501.8 L1644.7,510.8" stroke="#b4b400" stroke-width="10.8" stroke-linecap="round" fill="none"/>
<path d="M1644.7,510.8 L1644.9,519.8" stroke="#b4b400" stroke-width="10.9" stroke-linecap="round" fill="none"/>
<path d="M1644.9,519.8 L1644.9,528.9" stroke="#b4b400" stroke-width="10.9" stroke-linecap="round" fill="none"/>
<path d="M1644.9,528.9 L1644.9,537.9" stroke="#b4b400" stroke-width="10.9" stroke-linecap="round" fill="none"/>
<path d="M1644.9,537.9 L1644.7,546.9" stroke="#b4b400" stroke-width="10.6" stroke-linecap="round" fill="none"/>
<path d="M1644.7,546.9 L1644.4,555.9" stroke="#b4b400" stroke-width="10.3" stroke-linecap="round" fill="none"/>
<path d="M1644.4,555.9 L1643.8,564.9" stroke="#b4b400" stroke-width="9.9" stroke-linecap="round" fill="none"/>
<path d="M1643.8,564.9 L1642.9,573.8" stroke="#b4b400" stroke-width="9.6" stroke-linecap="round" fill="none"/>
<path d="M1642.9,573.8 L1641.5,582.7" stroke="#b4b400" stroke-width="9.3" stroke-linecap="round" fill="none"/>
<path d="M1641.5,582.7 L1639.6,591.5" stroke="#b4b400" stroke-width="8.9" stroke-linecap="round" fill="none"/>
<path d="M1639.6,591.5 L1637.1,600.1" stroke="#b4b400" stroke-width="8.6" stroke-linecap="round" fill="none"/>
<path d="M1637.1,600.1 L1633.9,608.4" stroke="#b4b400" stroke-width="8.3" stroke-linecap="round" fill="none"/>
<path d="M1633.9,608.4 L1629.8,616.2" stroke="#b4b400" stroke-width="8.1" stroke-linecap="round" fill="none"/>
<path d="M1629.8,616.2 L1624.7,623.2" stroke="#b4b400" stroke-width="7.9" stroke-linecap="round" fill="none"/>
<path d="M1624.7,623.2 L1618.5,629.2" stroke="#b4b400" stroke-width="7.7" stroke-linecap="round" fill="none"/>
<path d="M1618.5,629.2 L1611.4,633.9" stroke="#b4b400" stroke-width="7.6" stroke-linecap="round" fill="none"/>
<path d="M1611.4,633.9 L1603.4,637.2" stroke="#b4b400" stroke-width="7.4" stroke-linecap="round" fill="none"/>
<path d="M1603.4,637.2 L1594.8,639.2" stroke="#b4b400" stroke-width="7.2" stroke-linecap="round" fill="none"/>
<path d="M1594.8,639.2 L1586.0,640.4" stroke="#b4b400" stroke-width="7.1" stroke-linecap="round" fill="none"/>
<path d="M1604.6,234.4 L1606.4,243.2" stroke="#ffff00" stroke-width="5.9" stroke-linecap="round" fill="none"/>
<path d="M1606.4,243.2 L1608.2,252.1" stroke="#ffff00" stroke-width="6.0" stroke-linecap="round" fill="none"/>
<path d="M1608.2,252.1 L1610.0,260.9" stroke="#ffff00" stroke-width="6.1" stroke-linecap="round" fill="none"/>
<path d="M1610.0,260.9 L1611.8,269.8" stroke="#ffff00" stroke-width="6.3" stroke-linecap="round" fill="none"/>
<path d="M1611.8,269.8 L1613.6,278.6" stroke="#ffff00" stroke-width="6.4" stroke-linecap="round" fill="none"/>
<path d="M1613.6,278.6 L1615.5,287.4" stroke="#ffff00" stroke-width="6.5" stroke-linecap="round" fill="none"/>
<path d="M1615.5,287.4 L1617.4,296.2" stroke="#ffff00" stroke-width="6.7" stroke-linecap="round" fill="none"/>
<path d="M1617.4,296.2 L1619.3,305.0" stroke="#ffff00" stroke-width="6.8" stroke-linecap="round" fill="none"/>
<path d="M1619.3,305.0 L1621.0,313.9" stroke="#ffff00" stroke-width="7.0" stroke-linecap="round" fill="none"/>
<path d="M1621.0,313.9 L1622.5,322.8" stroke="#ffff00" stroke-width="7.1" stroke-linecap="round" fill="none"/>
<path d="M1622.5,322.8 L1623.8,331.7" stroke="#ffff00" stroke-width="7.3" stroke-linecap="round" fill="none"/>
<path d="M1623.8,331.7 L1625.2,340.6" stroke="#ffff00" stroke-width="7.4" stroke-linecap="round" fill="none"/>
<path d="M1625.2,340.6 L1626.5,349.6" stroke="#ffff00" stroke-width="7.6" stroke-linecap="round" fill="none"/>
<path d="M1626.5,349.6 L1627.8,358.5" stroke="#ffff00" stroke-width="7.7" stroke-linecap="round" fill="none"/>
<path d="M1627.8,358.5 L1629.1,367.4" stroke="#ffff00" stroke-width="7.9" stroke-linecap="round" fill="none"/>
<path d="M1629.1,367.4 L1630.3,376.4" stroke="#ffff00" stroke-width="8.0" stroke-linecap="round" fill="none"/>
<path d="M1630.3,376.4 L1631.6,385.3" stroke="#ffff00" stroke-width="8.2" stroke-linecap="round" fill="none"/>
<path d="M1631.6,385.3 L1632.9,394.2" stroke="#ffff00" stroke-width="8.3" stroke-linecap="round" fill="none"/>
<path d="M1632.9,394.2 L1634.2,403.2" stroke="#ffff00" stroke-width="8.5" stroke-linecap="round" fill="none"/>
<path d="M1634.2,403.2 L1635.4,412.1" stroke="#ffff00" stroke-width="8.6" stroke-linecap="round" fill="none"/>
<path d="M1635.4,412.1 L1636.6,421.0" stroke="#ffff00" stroke-width="8.8" stroke-linecap="round" fill="none"/>
<path d="M1636.6,421.0 L1637.8,430.0" stroke="#ffff00" stroke-width="8.9" stroke-linecap="round" fill="none"/>
<path d="M1637.8,430.0 L1639.0,438.9" stroke="#ffff00" stroke-width="9.0" stroke-linecap="round" fill="none"/>
<path d="M1639.0,438.9 L1640.2,447.9" stroke="#ffff00" stroke-width="9.1" stroke-linecap="round" fill="none"/>
<path d="M1640.2,447.9 L1641.2,456.8" stroke="#ffff00" stroke-width="9.2" stroke-linecap="round" fill="none"/>
<path d="M1641.2,456.8 L1642.1,465.8" stroke="#ffff00" stroke-width="9.2" stroke-linecap="round" fill="none"/>
<path d="M1642.1,465.8 L1642.8,474.8" stroke="#ffff00" stroke-width="9.3" stroke-linecap="round" fill="none"/>
<path d="M1642.8,474.8 L1643.4,483.8" stroke="#ffff00" stroke-width="9.4" stroke-linecap="round" fill="none"/>
<path d="M1643.4,483.8 L1644.0,492.8" stroke="#ffff00" stroke-width="9.5" stroke-linecap="round" fill="none"/>
<path d="M1644.0,492.8 L1644.4,501.8" stroke="#ffff00" stroke-width="9.5" stroke-linecap="round" fill="none"/>
<path d="M1644.4,501.8 L1644.7,510.8" stroke="#ffff00" stroke-width="9.6" stroke-linecap="round" fill="none"/>
<path d="M1644.7,510.8 L1644.9,519.8" stroke="#ffff00" stroke-width="9.7" stroke-linecap="round" fill="none"/>
<path d="M1644.9,519.8 L1644.9,528.9" stroke="#ffff00" stroke-width="9.7" stroke-linecap="round" fill="none"/>
<path d="M1644.9,528.9 L1644.9,537.9" stroke="#ffff00" stroke-width="9.7" stroke-linecap="round" fill="none"/>
<path d="M1644.9,537.9 L1644.7,546.9" stroke="#ffff00" stroke-width="9.4" stroke-linecap="round" fill="none"/>
<path d="M1644.7,546.9 L1644.4,555.9" stroke="#ffff00" stroke-width="9.1" stroke-linecap="round" fill="none"/>
<path d="M1644.4,555.9 L1643.8,564.9" stroke="#ffff00" stroke-width="8.7" stroke-linecap="round" fill="none"/>
<path d="M1643.8,564.9 L1642.9,573.8" stroke="#ffff00" stroke-width="8.4" stroke-linecap="round" fill="none"/>
<path d="M1642.9,573.8 L1641.5,582.7" stroke="#ffff00" stroke-width="8.1" stroke-linecap="round" fill="none"/>
<path d="M1641.5,582.7 L1639.6,591.5" stroke="#ffff00" stroke-width="7.7" stroke-linecap="round" fill="none"/>
<path d="M1639.6,591.5 L1637.1,600.1" stroke="#ffff00" stroke-width="7.4" stroke-linecap="round" fill="none"/>
<path d="M1637.1,600.1 L1633.9,608.4" stroke="#ffff00" stroke-width="7.1" stroke-linecap="round" fill="none"/>
<path d="M1633.9,608.4 L1629.8,616.2" stroke="#ffff00" stroke-width="6.9" stroke-linecap="round" fill="none"/>
<path d="M1629.8,616.2 L1624.7,623.2" stroke="#ffff00" stroke-width="6.7" stroke-linecap="round" fill="none"/>
<path d="M1624.7,623.2 L1618.5,629.2" stroke="#ffff00" stroke-width="6.5" stroke-linecap="round" fill="none"/>
<path d="M1618.5,629.2 L1611.4,633.9" stroke="#ffff00" stroke-width="6.4" stroke-linecap="round" fill="none"/>
<path d="M1611.4,633.9 L1603.4,637.2" stroke="#ffff00" stroke-width="6.2" stroke-linecap="round" fill="none"/>
<path d="M1603.4,637.2 L1594.8,639.2" stroke="#ffff00" stroke-width="6.0" stroke-linecap="round" fill="none"/>
<path d="M1594.8,639.2 L1586.0,640.4" stroke="#ffff00" stroke-width="5.9" stroke-linecap="round" fill="none"/>
<g transform="translate(1234.6 481.85) rotate(-10.5)">
<path d="M-85.5,-22.75 H-78.2 q3.2,4.4 6.4,0 H71.8 q3.2,4.4 6.4,0 H85.5 a4,4 0 0 1 4,4 V18.75 a4,4 0 0 1 -4,4 H78.2 q-3.2,-4.4 -6.4,0 H-71.8 q-3.2,-4.4 -6.4,0 H-85.5 a4,4 0 0 1 -4,-4 V-18.75 a4,4 0 0 1 4,-4 Z" fill="#ffff2e" fill-opacity="0.78" stroke="#c9a0c9" stroke-width="0.8"/>
<path d="M-79.5,-21.75 V21.75" stroke="#d8d860" stroke-width="0.7" fill="none" opacity="0.8"/>
<path d="M79.5,-21.75 V21.75" stroke="#d8d860" stroke-width="0.7" fill="none" opacity="0.8"/>
<path d="M-68.0,-21.75 V21.75" stroke="#d8d860" stroke-width="0.7" fill="none" opacity="0.8"/>
<path d="M68.0,-21.75 V21.75" stroke="#d8d860" stroke-width="0.7" fill="none" opacity="0.8"/>
<text transform="translate(0 0.5) rotate(0.0)" y="5.04" text-anchor="middle" font-family="'DejaVu Sans Condensed','Liberation Sans',sans-serif" font-size="14" fill="#000" textLength="110.5" lengthAdjust="spacingAndGlyphs">Coupling V2B 0.1uF</text>
<text transform="translate(73 0.5) rotate(0.0)" y="5.04" text-anchor="middle" font-family="'DejaVu Sans Condensed','Liberation Sans',sans-serif" font-size="14" fill="#000">O</text>
</g>
<g transform="translate(1441.8 494.2) rotate(-8.6)">
<path d="M-85.5,-22.75 H-78.2 q3.2,4.4 6.4,0 H71.8 q3.2,4.4 6.4,0 H85.5 a4,4 0 0 1 4,4 V18.75 a4,4 0 0 1 -4,4 H78.2 q-3.2,-4.4 -6.4,0 H-71.8 q-3.2,-4.4 -6.4,0 H-85.5 a4,4 0 0 1 -4,-4 V-18.75 a4,4 0 0 1 4,-4 Z" fill="#ffff2e" fill-opacity="0.78" stroke="#c9a0c9" stroke-width="0.8"/>
<path d="M-79.5,-21.75 V21.75" stroke="#d8d860" stroke-width="0.7" fill="none" opacity="0.8"/>
<path d="M79.5,-21.75 V21.75" stroke="#d8d860" stroke-width="0.7" fill="none" opacity="0.8"/>
<path d="M-68.0,-21.75 V21.75" stroke="#d8d860" stroke-width="0.7" fill="none" opacity="0.8"/>
<path d="M68.0,-21.75 V21.75" stroke="#d8d860" stroke-width="0.7" fill="none" opacity="0.8"/>
<text transform="translate(0 0.5) rotate(0.0)" y="5.04" text-anchor="middle" font-family="'DejaVu Sans Condensed','Liberation Sans',sans-serif" font-size="14" fill="#000" textLength="110.5" lengthAdjust="spacingAndGlyphs">Coupling V2B 0.1uF</text>
<text transform="translate(73 0.5) rotate(0.0)" y="5.04" text-anchor="middle" font-family="'DejaVu Sans Condensed','Liberation Sans',sans-serif" font-size="14" fill="#000">O</text>
</g>
<g transform="translate(1547.75 376.1) rotate(36)">
<path d="M-85.5,-22.75 H-78.2 q3.2,4.4 6.4,0 H71.8 q3.2,4.4 6.4,0 H85.5 a4,4 0 0 1 4,4 V18.75 a4,4 0 0 1 -4,4 H78.2 q-3.2,-4.4 -6.4,0 H-71.8 q-3.2,-4.4 -6.4,0 H-85.5 a4,4 0 0 1 -4,-4 V-18.75 a4,4 0 0 1 4,-4 Z" fill="#ffff2e" fill-opacity="0.78" stroke="#c9a0c9" stroke-width="0.8"/>
<path d="M-79.5,-21.75 V21.75" stroke="#d8d860" stroke-width="0.7" fill="none" opacity="0.8"/>
<path d="M79.5,-21.75 V21.75" stroke="#d8d860" stroke-width="0.7" fill="none" opacity="0.8"/>
<path d="M-68.0,-21.75 V21.75" stroke="#d8d860" stroke-width="0.7" fill="none" opacity="0.8"/>
<path d="M68.0,-21.75 V21.75" stroke="#d8d860" stroke-width="0.7" fill="none" opacity="0.8"/>
<text transform="translate(0 0.5) rotate(0)" y="5.04" text-anchor="middle" font-family="'DejaVu Sans Condensed','Liberation Sans',sans-serif" font-size="14" fill="#000" textLength="110.5" lengthAdjust="spacingAndGlyphs">Coupling V1B 0.1uF</text>
<text transform="translate(70 0.5) rotate(0)" y="5.04" text-anchor="middle" font-family="'DejaVu Sans Condensed','Liberation Sans',sans-serif" font-size="14" fill="#000">O</text>
</g>
<g transform="translate(1707.5 422) rotate(50.6)">
<path d="M-85.5,-22.75 H-78.2 q3.2,4.4 6.4,0 H71.8 q3.2,4.4 6.4,0 H85.5 a4,4 0 0 1 4,4 V18.75 a4,4 0 0 1 -4,4 H78.2 q-3.2,-4.4 -6.4,0 H-71.8 q-3.2,-4.4 -6.4,0 H-85.5 a4,4 0 0 1 -4,-4 V-18.75 a4,4 0 0 1 4,-4 Z" fill="#ffff2e" fill-opacity="0.78" stroke="#c9a0c9" stroke-width="0.8"/>
<path d="M-79.5,-21.75 V21.75" stroke="#d8d860" stroke-width="0.7" fill="none" opacity="0.8"/>
<path d="M79.5,-21.75 V21.75" stroke="#d8d860" stroke-width="0.7" fill="none" opacity="0.8"/>
<path d="M-68.0,-21.75 V21.75" stroke="#d8d860" stroke-width="0.7" fill="none" opacity="0.8"/>
<path d="M68.0,-21.75 V21.75" stroke="#d8d860" stroke-width="0.7" fill="none" opacity="0.8"/>
<text transform="translate(0 0.5) rotate(0.0)" y="5.04" text-anchor="middle" font-family="'DejaVu Sans Condensed','Liberation Sans',sans-serif" font-size="14" fill="#000" textLength="110.5" lengthAdjust="spacingAndGlyphs">Coupling V1A 0.1uF</text>
<text transform="translate(75 0.5) rotate(0.0)" y="5.04" text-anchor="middle" font-family="'DejaVu Sans Condensed','Liberation Sans',sans-serif" font-size="14" fill="#000">O</text>
</g>
<g transform="translate(1644.2 512.8) rotate(53.8)">
<path d="M-85.0,-22.75 H-77.7 q3.2,4.4 6.4,0 H71.3 q3.2,4.4 6.4,0 H85.0 a4,4 0 0 1 4,4 V18.75 a4,4 0 0 1 -4,4 H77.7 q-3.2,-4.4 -6.4,0 H-71.3 q-3.2,-4.4 -6.4,0 H-85.0 a4,4 0 0 1 -4,-4 V-18.75 a4,4 0 0 1 4,-4 Z" fill="#ffff2e" fill-opacity="0.78" stroke="#c9a0c9" stroke-width="0.8"/>
<path d="M-79.0,-21.75 V21.75" stroke="#d8d860" stroke-width="0.7" fill="none" opacity="0.8"/>
<path d="M79.0,-21.75 V21.75" stroke="#d8d860" stroke-width="0.7" fill="none" opacity="0.8"/>
<path d="M-67.5,-21.75 V21.75" stroke="#d8d860" stroke-width="0.7" fill="none" opacity="0.8"/>
<path d="M67.5,-21.75 V21.75" stroke="#d8d860" stroke-width="0.7" fill="none" opacity="0.8"/>
<text transform="translate(0 0.5) rotate(0.0)" y="5.04" text-anchor="middle" font-family="'DejaVu Sans Condensed','Liberation Sans',sans-serif" font-size="14" fill="#000" textLength="129" lengthAdjust="spacingAndGlyphs">Coupling V2A 0.022uFO</text>
</g>
<path d="M314.0,522.0 C308.0,523.0 293.3,521.8 278.0,528.0 C262.7,534.2 239.3,549.8 222.0,559.0 C204.7,568.2 182.0,579.0 174.0,583.0" fill="none" stroke="#999" stroke-width="4.8" stroke-linecap="round" stroke-linejoin="round"/>
<path d="M314.0,522.0 C308.0,523.0 293.3,521.8 278.0,528.0 C262.7,534.2 239.3,549.8 222.0,559.0 C204.7,568.2 182.0,579.0 174.0,583.0" fill="none" stroke="#fff" stroke-width="3.6" stroke-linecap="round" stroke-linejoin="round"/>
<path d="M174.0,583.0 C72.7,625.6 110.3,822.6 85.0,903.0" fill="none" stroke="#999" stroke-width="9.7" stroke-linecap="round" stroke-linejoin="round"/>
<path d="M174.0,583.0 C72.7,625.6 110.3,822.6 85.0,903.0" fill="none" stroke="#fff" stroke-width="8.5" stroke-linecap="round" stroke-linejoin="round"/>
<path d="M36,965 C30,310 86,310 83,905" fill="none" stroke="#00b400" stroke-width="7.6000000000000005" stroke-linecap="round" stroke-linejoin="round"/>
<path d="M36,965 C30,310 86,310 83,905" fill="none" stroke="#00ff00" stroke-width="6.4" stroke-linecap="round" stroke-linejoin="round"/>
<path d="M199,298 C60,340 60,700 80.5,905" fill="none" stroke="#000" stroke-width="10.5" stroke-linecap="round" stroke-linejoin="round"/>
<path d="M80.5,905 C92,960 55,985 63,1028" fill="none" stroke="#000" stroke-width="14" stroke-linecap="round" stroke-linejoin="round"/>
<path d="M234,297 C290,295 265,200 324,188" fill="none" stroke="#000" stroke-width="6" stroke-linecap="round" stroke-linejoin="round"/>
<circle cx="199" cy="298.5" r="7" fill="#000"/>
<circle cx="234" cy="297" r="7" fill="#000"/>
<circle cx="324" cy="188" r="7" fill="#000"/>
<circle cx="397" cy="188" r="7" fill="#000"/>
<circle cx="36.6" cy="965" r="13.9" fill="#fff" stroke="#000" stroke-width="9.6"/>
<path d="M36,965 L35.9,958" fill="none" stroke="#00ff00" stroke-width="6.4" stroke-linecap="round" stroke-linejoin="round"/>
<circle cx="647.3" cy="296.5" r="6.6" fill="#000"/>
<circle cx="722.7" cy="296.5" r="6.6" fill="#000"/>
<circle cx="586.3" cy="351.4" r="14" fill="#fff" stroke="#000" stroke-width="9.6"/>
<path d="M316.5,521.5 C430.6,488.1 481.8,390.4 585.8,350.4" fill="none" stroke="#5fae5f" stroke-width="9.2" stroke-linecap="round" stroke-linejoin="round"/>
<path d="M316.5,521.5 C430.6,488.1 481.8,390.4 585.8,350.4" fill="none" stroke="#98fb98" stroke-width="8" stroke-linecap="round" stroke-linejoin="round"/>
<path d="M314.0,522.0 C455.0,577.5 532.8,613.0 668.8,512.4" fill="none" stroke="#b40000" stroke-width="9.399999999999999" stroke-linecap="round" stroke-linejoin="round"/>
<path d="M314.0,522.0 C455.0,577.5 532.8,613.0 668.8,512.4" fill="none" stroke="#ff0000" stroke-width="8.2" stroke-linecap="round" stroke-linejoin="round"/>
<path d="M314.0,522.0 C316.8,660.9 536.5,489.9 586.2,540.0" fill="none" stroke="#b40000" stroke-width="9.399999999999999" stroke-linecap="round" stroke-linejoin="round"/>
<path d="M314.0,522.0 C316.8,660.9 536.5,489.9 586.2,540.0" fill="none" stroke="#ff0000" stroke-width="8.2" stroke-linecap="round" stroke-linejoin="round"/>
<path d="M314.0,803.0 C431.7,779.6 678.2,832.7 612.0,619.0" fill="none" stroke="#b4b400" stroke-width="11.2" stroke-linecap="round" stroke-linejoin="round"/>
<path d="M314.0,803.0 C431.7,779.6 678.2,832.7 612.0,619.0" fill="none" stroke="#ffff00" stroke-width="10" stroke-linecap="round" stroke-linejoin="round"/>
<path d="M314.0,803.0 C319.1,805.3 334.3,813.6 344.8,817.0 C355.3,820.4 366.2,823.2 377.0,823.5 C387.8,823.8 398.8,821.6 409.6,818.6 C420.4,815.6 430.3,810.5 442.0,805.7 C453.7,800.9 463.8,799.0 480.0,790.0 C496.2,781.0 518.3,765.3 539.0,752.0 C559.7,738.7 586.2,722.0 604.0,710.0 C621.8,698.0 634.6,689.4 646.0,680.0 C657.4,670.6 665.3,663.1 672.4,653.6 C679.5,644.1 685.1,633.2 688.7,623.0 C692.3,612.8 692.9,597.5 693.8,592.4" fill="none" stroke="#b4b400" stroke-width="11.2" stroke-linecap="round" stroke-linejoin="round"/>
<path d="M314.0,803.0 C319.1,805.3 334.3,813.6 344.8,817.0 C355.3,820.4 366.2,823.2 377.0,823.5 C387.8,823.8 398.8,821.6 409.6,818.6 C420.4,815.6 430.3,810.5 442.0,805.7 C453.7,800.9 463.8,799.0 480.0,790.0 C496.2,781.0 518.3,765.3 539.0,752.0 C559.7,738.7 586.2,722.0 604.0,710.0 C621.8,698.0 634.6,689.4 646.0,680.0 C657.4,670.6 665.3,663.1 672.4,653.6 C679.5,644.1 685.1,633.2 688.7,623.0 C692.3,612.8 692.9,597.5 693.8,592.4" fill="none" stroke="#ffff00" stroke-width="10" stroke-linecap="round" stroke-linejoin="round"/>
<path d="M314.0,522.0 C312.9,525.8 308.3,535.6 307.5,544.8 C306.7,554.0 307.6,565.1 309.0,577.0 C310.4,588.9 311.8,601.9 315.6,616.0 C319.4,630.1 324.2,646.4 331.8,661.5 C339.4,676.6 350.7,692.2 361.0,706.8 C371.3,721.4 382.6,736.6 393.4,749.0 C404.2,761.4 412.3,769.0 425.8,781.4 C439.3,793.8 462.0,813.6 474.4,823.5 C486.8,833.4 484.0,830.5 500.0,841.0 C516.0,851.5 546.9,872.5 570.4,886.5 C593.9,900.5 617.3,915.6 640.7,925.0 C664.1,934.4 690.5,939.3 711.0,942.8 C731.5,946.3 746.4,946.6 764.0,946.0 C781.6,945.4 802.0,943.0 816.7,939.0 C831.4,935.0 845.3,925.2 852.0,921.7 C858.7,918.2 856.2,918.6 857.0,918.0" fill="none" stroke="#b40000" stroke-width="11.2" stroke-linecap="round" stroke-linejoin="round"/>
<path d="M314.0,522.0 C312.9,525.8 308.3,535.6 307.5,544.8 C306.7,554.0 307.6,565.1 309.0,577.0 C310.4,588.9 311.8,601.9 315.6,616.0 C319.4,630.1 324.2,646.4 331.8,661.5 C339.4,676.6 350.7,692.2 361.0,706.8 C371.3,721.4 382.6,736.6 393.4,749.0 C404.2,761.4 412.3,769.0 425.8,781.4 C439.3,793.8 462.0,813.6 474.4,823.5 C486.8,833.4 484.0,830.5 500.0,841.0 C516.0,851.5 546.9,872.5 570.4,886.5 C593.9,900.5 617.3,915.6 640.7,925.0 C664.1,934.4 690.5,939.3 711.0,942.8 C731.5,946.3 746.4,946.6 764.0,946.0 C781.6,945.4 802.0,943.0 816.7,939.0 C831.4,935.0 845.3,925.2 852.0,921.7 C858.7,918.2 856.2,918.6 857.0,918.0" fill="none" stroke="#ff0000" stroke-width="10" stroke-linecap="round" stroke-linejoin="round"/>
<path d="M314.0,522.0 C312.9,525.8 308.3,535.6 307.5,544.8 C306.7,554.0 307.6,565.1 309.0,577.0 C310.4,588.9 311.8,601.9 315.6,616.0 C319.4,630.1 324.2,646.4 331.8,661.5 C339.4,676.6 350.7,692.2 361.0,706.8 C371.3,721.4 382.6,736.6 393.4,749.0 C404.2,761.4 412.3,769.0 425.8,781.4 C439.3,793.8 462.0,813.6 474.4,823.5 C486.8,833.4 484.0,830.5 500.0,841.0 C516.0,851.5 546.9,872.5 570.4,886.5 C593.9,900.5 617.3,915.6 640.7,925.0 C664.1,934.4 690.5,939.3 711.0,942.8 C731.5,946.3 746.4,946.6 764.0,946.0 C781.6,945.4 802.0,943.0 816.7,939.0 C831.4,935.0 845.3,925.2 852.0,921.7 C858.7,918.2 856.2,918.6 857.0,918.0" fill="none" stroke="#ffff00" stroke-width="10" stroke-dasharray="4.5 19.5" stroke-dashoffset="-14"/>
<path d="M397.0,188.0 C464.5,312.9 360.5,409.9 315.6,522.5" fill="none" stroke="#000" stroke-width="5.6" stroke-linecap="round" stroke-linejoin="round"/>
<path d="M314.0,802.0 C316.0,797.8 321.7,784.9 326.0,776.6 C330.3,768.4 334.9,760.2 339.9,752.4 C345.0,744.6 350.6,737.1 356.4,729.9 C362.3,722.6 368.6,715.7 375.1,708.8 C381.5,702.0 388.3,695.4 395.0,688.8 C401.7,682.2 408.6,675.8 415.3,669.2 C422.1,662.6 428.9,656.1 435.5,649.4 C442.2,642.8 448.7,636.0 455.3,629.2 C461.9,622.5 468.4,615.7 475.0,609.0 C481.5,602.2 488.2,595.6 494.8,588.8 C501.4,582.1 508.0,575.4 514.5,568.6 C521.0,561.8 527.4,554.9 533.7,547.9 C540.0,540.9 546.2,533.8 552.2,526.6 C558.3,519.3 564.2,512.0 569.8,504.5 C575.5,497.0 580.9,489.4 586.1,481.5 C591.2,473.7 596.1,465.6 600.7,457.5 C605.4,449.3 609.8,441.0 613.8,432.5 C617.9,424.1 621.8,415.5 625.2,406.8 C628.6,398.0 631.7,389.2 634.2,380.2 C636.8,371.2 638.9,362.1 640.7,352.9 C642.4,343.7 643.6,334.4 644.8,325.1 C645.9,315.8 647.0,301.7 647.4,297.0" fill="none" stroke="#00b400" stroke-width="10.799999999999999" stroke-linecap="round" stroke-linejoin="round"/>
<path d="M314.0,802.0 C316.0,797.8 321.7,784.9 326.0,776.6 C330.3,768.4 334.9,760.2 339.9,752.4 C345.0,744.6 350.6,737.1 356.4,729.9 C362.3,722.6 368.6,715.7 375.1,708.8 C381.5,702.0 388.3,695.4 395.0,688.8 C401.7,682.2 408.6,675.8 415.3,669.2 C422.1,662.6 428.9,656.1 435.5,649.4 C442.2,642.8 448.7,636.0 455.3,629.2 C461.9,622.5 468.4,615.7 475.0,609.0 C481.5,602.2 488.2,595.6 494.8,588.8 C501.4,582.1 508.0,575.4 514.5,568.6 C521.0,561.8 527.4,554.9 533.7,547.9 C540.0,540.9 546.2,533.8 552.2,526.6 C558.3,519.3 564.2,512.0 569.8,504.5 C575.5,497.0 580.9,489.4 586.1,481.5 C591.2,473.7 596.1,465.6 600.7,457.5 C605.4,449.3 609.8,441.0 613.8,432.5 C617.9,424.1 621.8,415.5 625.2,406.8 C628.6,398.0 631.7,389.2 634.2,380.2 C636.8,371.2 638.9,362.1 640.7,352.9 C642.4,343.7 643.6,334.4 644.8,325.1 C645.9,315.8 647.0,301.7 647.4,297.0" fill="none" stroke="#00ff00" stroke-width="9.6" stroke-linecap="round" stroke-linejoin="round"/>
<path d="M314.0,802.0 C318.2,799.9 330.7,793.9 339.0,789.6 C347.2,785.4 355.4,781.1 363.4,776.4 C371.3,771.7 379.2,766.8 386.7,761.5 C394.2,756.2 401.5,750.6 408.5,744.6 C415.4,738.5 422.0,732.2 428.3,725.4 C434.5,718.7 440.3,711.6 445.7,704.2 C451.1,696.7 456.0,688.9 460.6,681.0 C465.2,673.0 469.2,664.7 473.2,656.4 C477.2,648.0 480.9,639.5 484.7,631.1 C488.6,622.6 492.3,614.1 496.3,605.7 C500.2,597.3 504.3,589.0 508.3,580.6 C512.4,572.3 516.5,563.9 520.7,555.6 C524.8,547.3 528.9,539.0 533.2,530.7 C537.5,522.5 541.9,514.3 546.4,506.2 C550.9,498.1 555.6,490.1 560.3,482.1 C565.1,474.1 569.9,466.1 574.7,458.2 C579.5,450.2 584.4,442.3 589.2,434.4 C594.1,426.5 599.0,418.5 604.0,410.8 C609.1,403.0 614.2,395.2 619.7,387.8 C625.1,380.3 630.8,372.9 636.8,365.9 C642.8,358.9 649.0,352.1 655.7,345.8 C662.3,339.4 669.3,333.3 676.5,327.7 C683.8,322.0 691.4,316.8 699.1,311.6 C706.8,306.5 718.8,299.4 722.7,297.0" fill="none" stroke="#00b400" stroke-width="10.799999999999999" stroke-linecap="round" stroke-linejoin="round"/>
<path d="M314.0,802.0 C318.2,799.9 330.7,793.9 339.0,789.6 C347.2,785.4 355.4,781.1 363.4,776.4 C371.3,771.7 379.2,766.8 386.7,761.5 C394.2,756.2 401.5,750.6 408.5,744.6 C415.4,738.5 422.0,732.2 428.3,725.4 C434.5,718.7 440.3,711.6 445.7,704.2 C451.1,696.7 456.0,688.9 460.6,681.0 C465.2,673.0 469.2,664.7 473.2,656.4 C477.2,648.0 480.9,639.5 484.7,631.1 C488.6,622.6 492.3,614.1 496.3,605.7 C500.2,597.3 504.3,589.0 508.3,580.6 C512.4,572.3 516.5,563.9 520.7,555.6 C524.8,547.3 528.9,539.0 533.2,530.7 C537.5,522.5 541.9,514.3 546.4,506.2 C550.9,498.1 555.6,490.1 560.3,482.1 C565.1,474.1 569.9,466.1 574.7,458.2 C579.5,450.2 584.4,442.3 589.2,434.4 C594.1,426.5 599.0,418.5 604.0,410.8 C609.1,403.0 614.2,395.2 619.7,387.8 C625.1,380.3 630.8,372.9 636.8,365.9 C642.8,358.9 649.0,352.1 655.7,345.8 C662.3,339.4 669.3,333.3 676.5,327.7 C683.8,322.0 691.4,316.8 699.1,311.6 C706.8,306.5 718.8,299.4 722.7,297.0" fill="none" stroke="#00ff00" stroke-width="9.6" stroke-linecap="round" stroke-linejoin="round"/>
<path d="M647.0,297.0 C649.7,297.5 657.0,297.7 663.0,300.0 C669.0,302.3 677.9,306.4 683.0,310.6 C688.1,314.8 692.8,318.9 693.5,325.0 C694.2,331.1 686.0,340.2 687.0,347.0 C688.0,353.8 696.8,360.5 699.6,365.7 C702.4,370.9 704.7,372.9 703.7,378.0 C702.7,383.1 695.2,393.2 693.5,396.3" fill="none" stroke="#00b400" stroke-width="6.8" stroke-linecap="round" stroke-linejoin="round"/>
<path d="M647.0,297.0 C649.7,297.5 657.0,297.7 663.0,300.0 C669.0,302.3 677.9,306.4 683.0,310.6 C688.1,314.8 692.8,318.9 693.5,325.0 C694.2,331.1 686.0,340.2 687.0,347.0 C688.0,353.8 696.8,360.5 699.6,365.7 C702.4,370.9 704.7,372.9 703.7,378.0 C702.7,383.1 695.2,393.2 693.5,396.3" fill="none" stroke="#00ff00" stroke-width="5.6" stroke-linecap="round" stroke-linejoin="round"/>
<path d="M722.0,297.0 C656.5,308.0 669.7,377.8 731.0,386.0" fill="none" stroke="#00b400" stroke-width="6.8" stroke-linecap="round" stroke-linejoin="round"/>
<path d="M722.0,297.0 C656.5,308.0 669.7,377.8 731.0,386.0" fill="none" stroke="#00ff00" stroke-width="5.6" stroke-linecap="round" stroke-linejoin="round"/>
<rect x="162" y="189" width="72.3" height="107.3" fill="#fff" stroke="#666" stroke-width="0.9"/>
<rect x="324.5" y="189" width="72.3" height="107.3" fill="#fff" stroke="#666" stroke-width="0.9"/>
<rect x="649.5" y="189" width="72.3" height="107.3" fill="#fff" stroke="#666" stroke-width="0.9"/>
<circle cx="937" cy="269.3" r="6.8" fill="#000"/>
<circle cx="937" cy="269.3" r="2.6" fill="#fff"/>
<path d="M810.4,270.4 C889.8,218.4 866.0,411.4 848.0,440.7" fill="none" stroke="#3f3f00" stroke-width="5.8" stroke-linecap="round" stroke-linejoin="round"/>
<path d="M810.4,270.4 C889.8,218.4 866.0,411.4 848.0,440.7" fill="none" stroke="#6b6b00" stroke-width="4.6" stroke-linecap="round" stroke-linejoin="round"/>
<path d="M811.0,342.0 C856.3,370.1 893.2,369.8 938.9,342.6" fill="none" stroke="#003c00" stroke-width="7.2" stroke-linecap="round" stroke-linejoin="round"/>
<path d="M811.0,342.0 C856.3,370.1 893.2,369.8 938.9,342.6" fill="none" stroke="#006400" stroke-width="6" stroke-linecap="round" stroke-linejoin="round"/>
<path d="M811.0,342.0 C844.9,346.3 842.2,417.0 847.4,441.5" fill="none" stroke="#0f5a24" stroke-width="7.2" stroke-linecap="round" stroke-linejoin="round"/>
<path d="M811.0,342.0 C844.9,346.3 842.2,417.0 847.4,441.5" fill="none" stroke="#1e8c3c" stroke-width="6" stroke-linecap="round" stroke-linejoin="round"/>
<path d="M810.4,270.4 C835,272 843,290 829,305.6" fill="none" stroke="#000" stroke-width="6.5" stroke-linecap="round" stroke-linejoin="round"/>
<circle cx="810.4" cy="270.4" r="7" fill="#000"/>
<circle cx="828.9" cy="305.6" r="7.5" fill="#000"/>
<circle cx="811" cy="341.9" r="7" fill="#000"/>
<circle cx="938.9" cy="342.6" r="7" fill="#000"/>
<path d="M983.4,538.6 C1024.3,634.6 1171.9,517.4 1245.0,540.0" fill="none" stroke="#b40000" stroke-width="7.8" stroke-linecap="round" stroke-linejoin="round"/>
<path d="M983.4,538.6 C1024.3,634.6 1171.9,517.4 1245.0,540.0" fill="none" stroke="#ff0000" stroke-width="6.6" stroke-linecap="round" stroke-linejoin="round"/>
<path d="M1245.0,540.0 C1243.1,542.7 1237.6,549.2 1233.8,556.0 C1230.0,562.8 1224.5,574.3 1222.0,581.0 C1219.5,587.7 1219.2,590.2 1218.9,596.0 C1218.6,601.8 1218.3,607.5 1220.0,615.6 C1221.7,623.7 1224.1,633.3 1228.9,644.4 C1233.7,655.5 1240.0,669.6 1248.9,682.2 C1257.8,694.8 1271.1,708.9 1282.2,720.0 C1293.3,731.1 1304.5,740.8 1315.6,748.9 C1326.7,757.0 1337.8,763.2 1348.9,768.9 C1360.0,774.6 1373.7,780.0 1382.2,783.3 C1390.7,786.6 1392.0,787.1 1400.0,788.9 C1408.0,790.7 1420.4,792.8 1430.0,794.0 C1439.6,795.2 1449.3,796.1 1457.4,796.0 C1465.5,795.9 1475.0,793.8 1478.5,793.4" fill="none" stroke="#b40000" stroke-width="7.8" stroke-linecap="round" stroke-linejoin="round"/>
<path d="M1245.0,540.0 C1243.1,542.7 1237.6,549.2 1233.8,556.0 C1230.0,562.8 1224.5,574.3 1222.0,581.0 C1219.5,587.7 1219.2,590.2 1218.9,596.0 C1218.6,601.8 1218.3,607.5 1220.0,615.6 C1221.7,623.7 1224.1,633.3 1228.9,644.4 C1233.7,655.5 1240.0,669.6 1248.9,682.2 C1257.8,694.8 1271.1,708.9 1282.2,720.0 C1293.3,731.1 1304.5,740.8 1315.6,748.9 C1326.7,757.0 1337.8,763.2 1348.9,768.9 C1360.0,774.6 1373.7,780.0 1382.2,783.3 C1390.7,786.6 1392.0,787.1 1400.0,788.9 C1408.0,790.7 1420.4,792.8 1430.0,794.0 C1439.6,795.2 1449.3,796.1 1457.4,796.0 C1465.5,795.9 1475.0,793.8 1478.5,793.4" fill="none" stroke="#ff0000" stroke-width="6.6" stroke-linecap="round" stroke-linejoin="round"/>
<path d="M1298.3,233.7 C1355.5,172.4 1439.2,177.4 1496.6,234.4" fill="none" stroke="#000" stroke-width="8" stroke-linecap="round" stroke-linejoin="round"/>
<path d="M1496.6,234.4 C1585.5,127.9 1817.4,207.4 1898.9,287.8" fill="none" stroke="#000" stroke-width="8" stroke-linecap="round" stroke-linejoin="round"/>
<path d="M1153.7,233.7 C1170,145 1390,145 1406.5,233.7" fill="none" stroke="#b4b400" stroke-width="7.0" stroke-linecap="round" stroke-linejoin="round"/>
<path d="M1153.7,233.7 C1170,145 1390,145 1406.5,233.7" fill="none" stroke="#ffff00" stroke-width="5.8" stroke-linecap="round" stroke-linejoin="round"/>
<path d="M1406.5,233.7 C1449.8,163.0 1562.7,163.4 1604.6,234.4" fill="none" stroke="#b4b400" stroke-width="7.0" stroke-linecap="round" stroke-linejoin="round"/>
<path d="M1406.5,233.7 C1449.8,163.0 1562.7,163.4 1604.6,234.4" fill="none" stroke="#ffff00" stroke-width="5.8" stroke-linecap="round" stroke-linejoin="round"/>
<path d="M1898.9,287.8 C1901.3,286.1 1908.3,279.8 1913.3,277.8 C1918.3,275.8 1923.7,273.8 1928.9,275.6 C1934.1,277.5 1939.6,280.8 1944.4,288.9 C1949.2,297.0 1954.1,309.6 1957.8,324.4 C1961.5,339.2 1964.5,357.7 1966.7,377.8 C1968.9,397.9 1970.7,421.3 1971.2,445.0 C1971.8,468.7 1970.8,498.2 1970.0,520.0 C1969.2,541.8 1968.8,553.6 1966.6,576.0 C1964.4,598.4 1962.3,631.0 1957.1,654.6 C1951.8,678.2 1943.0,699.1 1935.1,717.5 C1927.2,735.9 1917.2,753.0 1909.9,764.8 C1902.6,776.6 1895.3,783.6 1891.0,788.4 C1886.7,793.2 1885.0,792.6 1883.8,793.5" fill="none" stroke="#000" stroke-width="7.8" stroke-linecap="round" stroke-linejoin="round"/>
<path d="M1523.4,883.2 C1600,854 1800,854 1883.8,883.2" fill="none" stroke="#000" stroke-width="7" stroke-linecap="round" stroke-linejoin="round"/>
<text transform="translate(200 242) rotate(-90)" x="0" y="9.72" text-anchor="middle" font-family="'DejaVu Sans Condensed','Liberation Sans',sans-serif" font-size="27" fill="#000" textLength="95" lengthAdjust="spacingAndGlyphs">Fuse 2A</text>
<text transform="translate(362 242) rotate(-90)" x="0" y="9.72" text-anchor="middle" font-family="'DejaVu Sans Condensed','Liberation Sans',sans-serif" font-size="27" fill="#000">Pwr</text>
<text transform="translate(687 242) rotate(-90)" x="0" y="9.72" text-anchor="middle" font-family="'DejaVu Sans Condensed','Liberation Sans',sans-serif" font-size="27" fill="#000">Light</text>
<text transform="translate(1099.8 270.5) rotate(0)" x="0" y="6.66" text-anchor="middle" font-family="'DejaVu Sans Condensed','Liberation Sans',sans-serif" font-size="18.5" fill="#000">1</text>
<text transform="translate(1154 270.5) rotate(0)" x="0" y="6.66" text-anchor="middle" font-family="'DejaVu Sans Condensed','Liberation Sans',sans-serif" font-size="18.5" fill="#000">2</text>
<text transform="translate(1217.2 270.5) rotate(0)" x="0" y="6.66" text-anchor="middle" font-family="'DejaVu Sans Condensed','Liberation Sans',sans-serif" font-size="18.5" fill="#000">3</text>
<text transform="translate(1298.3 270.5) rotate(0)" x="0" y="6.66" text-anchor="middle" font-family="'DejaVu Sans Condensed','Liberation Sans',sans-serif" font-size="18.5" fill="#000">1</text>
<text transform="translate(1352.5 270.5) rotate(0)" x="0" y="6.66" text-anchor="middle" font-family="'DejaVu Sans Condensed','Liberation Sans',sans-serif" font-size="18.5" fill="#000">2</text>
<text transform="translate(1406.7 270.5) rotate(0)" x="0" y="6.66" text-anchor="middle" font-family="'DejaVu Sans Condensed','Liberation Sans',sans-serif" font-size="18.5" fill="#000">3</text>
<text transform="translate(1496.8 270.5) rotate(0)" x="0" y="6.66" text-anchor="middle" font-family="'DejaVu Sans Condensed','Liberation Sans',sans-serif" font-size="18.5" fill="#000">1</text>
<text transform="translate(1551 270.5) rotate(0)" x="0" y="6.66" text-anchor="middle" font-family="'DejaVu Sans Condensed','Liberation Sans',sans-serif" font-size="18.5" fill="#000">2</text>
<text transform="translate(1605.2 270.5) rotate(0)" x="0" y="6.66" text-anchor="middle" font-family="'DejaVu Sans Condensed','Liberation Sans',sans-serif" font-size="18.5" fill="#000">3</text>
<text transform="translate(901.1 965.7) rotate(0)" x="0" y="7.2" text-anchor="middle" font-family="'DejaVu Sans Condensed','Liberation Sans',sans-serif" font-size="20" fill="#000" textLength="62.5" lengthAdjust="spacingAndGlyphs">Ground</text>
<text transform="translate(1216.4 821.4) rotate(0)" x="0" y="7.2" text-anchor="middle" font-family="'DejaVu Sans Condensed','Liberation Sans',sans-serif" font-size="20" fill="#000" textLength="62.5" lengthAdjust="spacingAndGlyphs">Ground</text>
<text transform="translate(1523.7 837.6) rotate(-90)" x="0" y="7.2" text-anchor="middle" font-family="'DejaVu Sans Condensed','Liberation Sans',sans-serif" font-size="20" fill="#000" textLength="62.5" lengthAdjust="spacingAndGlyphs">Ground</text>
<text transform="translate(1661.9 837) rotate(-90)" x="0" y="7.2" text-anchor="middle" font-family="'DejaVu Sans Condensed','Liberation Sans',sans-serif" font-size="20" fill="#000">B+3</text>
<text transform="translate(1884.5 837.6) rotate(-90)" x="0" y="7.2" text-anchor="middle" font-family="'DejaVu Sans Condensed','Liberation Sans',sans-serif" font-size="20" fill="#000" textLength="62.5" lengthAdjust="spacingAndGlyphs">Ground</text>
<text transform="translate(901.1 1037) rotate(0)" x="0" y="6.12" text-anchor="middle" font-family="'DejaVu Sans','Liberation Sans',sans-serif" font-size="17" fill="#000" textLength="116" lengthAdjust="spacingAndGlyphs" font-weight="bold">Cap Ground</text>
<text transform="translate(1216.7 894.5) rotate(0)" x="0" y="6.12" text-anchor="middle" font-family="'DejaVu Sans','Liberation Sans',sans-serif" font-size="17" fill="#000" textLength="193" lengthAdjust="spacingAndGlyphs" font-weight="bold">Power Amp Ground</text>
<text transform="translate(730 658.5) rotate(0)" x="0" y="7.2" text-anchor="middle" font-family="'DejaVu Sans Condensed','Liberation Sans',sans-serif" font-size="20" fill="#000">B+1</text>
<text transform="translate(973.5 659) rotate(0)" x="0" y="7.2" text-anchor="middle" font-family="'DejaVu Sans Condensed','Liberation Sans',sans-serif" font-size="20" fill="#000">B+2</text>
<text transform="translate(1279.8 198.4) rotate(0)" x="0" y="4.86" text-anchor="middle" font-family="'DejaVu Sans Condensed','Liberation Sans',sans-serif" font-size="13.5" fill="#fff">470pF</text>
<text transform="translate(1207.9 297.2) rotate(0)" x="0" y="4.86" text-anchor="middle" font-family="'DejaVu Sans Condensed','Liberation Sans',sans-serif" font-size="13.5" fill="#fff" textLength="51.5" lengthAdjust="spacingAndGlyphs">0.0047uF</text>
<text transform="translate(1281 180.8) rotate(0)" x="0" y="4.86" text-anchor="middle" font-family="'DejaVu Sans Condensed','Liberation Sans',sans-serif" font-size="13.5" fill="#000" textLength="63.5" lengthAdjust="spacingAndGlyphs">Bright Cap</text>
<text transform="translate(1207.9 326) rotate(0)" x="0" y="4.86" text-anchor="middle" font-family="'DejaVu Sans Condensed','Liberation Sans',sans-serif" font-size="13.5" fill="#000" textLength="58" lengthAdjust="spacingAndGlyphs">Tone Cap</text>
<text x="28" y="112.5" font-family="'Liberation Sans',sans-serif" font-size="80" fill="#000" textLength="1628" lengthAdjust="spacingAndGlyphs">5E3 "Deluxe" Amp No Standby Point-to-Point</text>
<text transform="translate(315.5 407) rotate(0)" x="0" y="10.44" text-anchor="middle" font-family="'DejaVu Sans Condensed','Liberation Sans',sans-serif" font-size="29" fill="#fff" textLength="258" lengthAdjust="spacingAndGlyphs">Power Transformer</text>
<text transform="translate(315.5 442) rotate(0)" x="0" y="6.66" text-anchor="middle" font-family="'DejaVu Sans Condensed','Liberation Sans',sans-serif" font-size="18.5" fill="#fff" textLength="102" lengthAdjust="spacingAndGlyphs">355-0-355V</text>
<text x="371" y="468" font-family="'DejaVu Sans Condensed','Liberation Sans',sans-serif" font-size="18.5" fill="#fff" textLength="141" lengthAdjust="spacingAndGlyphs">6.3V Center Tap</text>
<text x="405" y="566" font-family="'DejaVu Sans Condensed','Liberation Sans',sans-serif" font-size="20" fill="#fff">AC HT</text>
<text x="376" y="729" font-family="'DejaVu Sans Condensed','Liberation Sans',sans-serif" font-size="18.5" fill="#0f0">6.3V</text>
<text x="373" y="846" font-family="'DejaVu Sans Condensed','Liberation Sans',sans-serif" font-size="18.5" fill="#ff0">5v Heater</text>
<text x="538" y="909" font-family="'DejaVu Sans Condensed','Liberation Sans',sans-serif" font-size="19.5" fill="#000" textLength="95.5" lengthAdjust="spacingAndGlyphs">Center Tap</text>
<text x="8" y="909" font-family="'DejaVu Sans Condensed','Liberation Sans',sans-serif" font-size="19" fill="#000" textLength="55" lengthAdjust="spacingAndGlyphs">Safety</text>
<text x="8.5" y="936" font-family="'DejaVu Sans Condensed','Liberation Sans',sans-serif" font-size="19" fill="#000" textLength="63" lengthAdjust="spacingAndGlyphs">Ground</text>
<text x="117" y="1049" font-family="'DejaVu Sans Condensed','Liberation Sans',sans-serif" font-size="29" fill="#000" textLength="156" lengthAdjust="spacingAndGlyphs">Power Cord</text>
<text x="674" y="422.3" font-family="'DejaVu Sans Condensed','Liberation Sans',sans-serif" font-size="18.5" fill="#0f0" textLength="38" lengthAdjust="spacingAndGlyphs">6.3V</text>
<text x="674" y="450" font-family="'DejaVu Sans Condensed','Liberation Sans',sans-serif" font-size="18.5" fill="#0f0" textLength="75" lengthAdjust="spacingAndGlyphs">To All Fil</text>
<text transform="translate(820.4 253.7) rotate(0)" x="0" y="5.4" text-anchor="middle" font-family="'DejaVu Sans Condensed','Liberation Sans',sans-serif" font-size="15" fill="#000">G</text>
<text transform="translate(846.7 307.4) rotate(0)" x="0" y="5.4" text-anchor="middle" font-family="'DejaVu Sans Condensed','Liberation Sans',sans-serif" font-size="15" fill="#000">S</text>
<text transform="translate(811.9 361) rotate(0)" x="0" y="5.4" text-anchor="middle" font-family="'DejaVu Sans Condensed','Liberation Sans',sans-serif" font-size="15" fill="#000">T</text>
<text transform="translate(946.3 253.7) rotate(0)" x="0" y="5.4" text-anchor="middle" font-family="'DejaVu Sans Condensed','Liberation Sans',sans-serif" font-size="15" fill="#000">G</text>
<text transform="translate(947.4 361) rotate(0)" x="0" y="5.4" text-anchor="middle" font-family="'DejaVu Sans Condensed','Liberation Sans',sans-serif" font-size="15" fill="#000">T</text>
<text transform="translate(918.5 307) rotate(0)" x="0" y="6.66" text-anchor="middle" font-family="'DejaVu Sans Condensed','Liberation Sans',sans-serif" font-size="18.5" fill="#000">Aux</text>
<text x="771" y="390" font-family="'DejaVu Sans Condensed','Liberation Sans',sans-serif" font-size="29.5" fill="#000" textLength="189.5" lengthAdjust="spacingAndGlyphs">Speaker Jacks</text>
<text x="803.5" y="479" font-family="'DejaVu Sans Condensed','Liberation Sans',sans-serif" font-size="24.5" fill="#000" textLength="87" lengthAdjust="spacingAndGlyphs">OT Out</text>
<text x="1002.5" y="406.7" font-family="'DejaVu Sans Condensed','Liberation Sans',sans-serif" font-size="24.5" fill="#000" textLength="67" lengthAdjust="spacingAndGlyphs">OT In</text>
<text x="753.5" y="530.4" font-family="'DejaVu Sans Condensed','Liberation Sans',sans-serif" font-size="18.5" fill="#f00">B+</text>
<text transform="translate(1028.2 497.6) rotate(0)" x="0" y="6.84" text-anchor="middle" font-family="'DejaVu Sans Condensed','Liberation Sans',sans-serif" font-size="19" fill="#000">5</text>
<text transform="translate(1055 515.6) rotate(0)" x="0" y="6.84" text-anchor="middle" font-family="'DejaVu Sans Condensed','Liberation Sans',sans-serif" font-size="19" fill="#000">6</text>
<text transform="translate(974.3 550.8) rotate(0)" x="0" y="6.84" text-anchor="middle" font-family="'DejaVu Sans Condensed','Liberation Sans',sans-serif" font-size="19" fill="#000">4</text>
<text transform="translate(964.8 595.5) rotate(0)" x="0" y="6.84" text-anchor="middle" font-family="'DejaVu Sans Condensed','Liberation Sans',sans-serif" font-size="19" fill="#000">3</text>
<text transform="translate(1090.5 613.5) rotate(0)" x="0" y="6.84" text-anchor="middle" font-family="'DejaVu Sans Condensed','Liberation Sans',sans-serif" font-size="19" fill="#000">8</text>
<text transform="translate(1045.8 632.5) rotate(0)" x="0" y="6.84" text-anchor="middle" font-family="'DejaVu Sans Condensed','Liberation Sans',sans-serif" font-size="19" fill="#000">1</text>
<text transform="translate(1243.8 524) rotate(0)" x="0" y="6.84" text-anchor="middle" font-family="'DejaVu Sans Condensed','Liberation Sans',sans-serif" font-size="19" fill="#000">4</text>
<text transform="translate(1289.4 515.2) rotate(0)" x="0" y="6.84" text-anchor="middle" font-family="'DejaVu Sans Condensed','Liberation Sans',sans-serif" font-size="19" fill="#000">5</text>
<text transform="translate(1316.4 515.2) rotate(0)" x="0" y="6.84" text-anchor="middle" font-family="'DejaVu Sans Condensed','Liberation Sans',sans-serif" font-size="19" fill="#000">6</text>
<text transform="translate(1244.5 577.5) rotate(0)" x="0" y="6.84" text-anchor="middle" font-family="'DejaVu Sans Condensed','Liberation Sans',sans-serif" font-size="19" fill="#000">3</text>
<text transform="translate(1370.3 595.5) rotate(0)" x="0" y="6.84" text-anchor="middle" font-family="'DejaVu Sans Condensed','Liberation Sans',sans-serif" font-size="19" fill="#000">8</text>
<text transform="translate(1307 623) rotate(0)" x="0" y="6.84" text-anchor="middle" font-family="'DejaVu Sans Condensed','Liberation Sans',sans-serif" font-size="19" fill="#000">1</text>
<text transform="translate(1506.1 532.5) rotate(0)" x="0" y="6.84" text-anchor="middle" font-family="'DejaVu Sans Condensed','Liberation Sans',sans-serif" font-size="19" fill="#000">6</text>
<text transform="translate(1595.2 532.5) rotate(0)" x="0" y="6.84" text-anchor="middle" font-family="'DejaVu Sans Condensed','Liberation Sans',sans-serif" font-size="19" fill="#000">9</text>
<text transform="translate(1604.6 586.9) rotate(0)" x="0" y="6.84" text-anchor="middle" font-family="'DejaVu Sans Condensed','Liberation Sans',sans-serif" font-size="19" fill="#000">1</text>
<text transform="translate(1758 533) rotate(0)" x="0" y="6.84" text-anchor="middle" font-family="'DejaVu Sans Condensed','Liberation Sans',sans-serif" font-size="19" fill="#000">6</text>
<text transform="translate(1892.5 542) rotate(0)" x="0" y="6.84" text-anchor="middle" font-family="'DejaVu Sans Condensed','Liberation Sans',sans-serif" font-size="19" fill="#000">9</text>
<text transform="translate(1875 613.8) rotate(0)" x="0" y="6.84" text-anchor="middle" font-family="'DejaVu Sans Condensed','Liberation Sans',sans-serif" font-size="19" fill="#000">1</text>
<text transform="translate(657 640) rotate(0)" x="0" y="6.84" text-anchor="middle" font-family="'DejaVu Sans Condensed','Liberation Sans',sans-serif" font-size="19" fill="#000">1</text>
<text transform="translate(1108.5 550.4) rotate(0)" x="0" y="7.02" text-anchor="middle" font-family="'DejaVu Sans Condensed','Liberation Sans',sans-serif" font-size="19.5" fill="#0f0">Fil</text>
<text transform="translate(991.9 631.8) rotate(0)" x="0" y="7.02" text-anchor="middle" font-family="'DejaVu Sans Condensed','Liberation Sans',sans-serif" font-size="19.5" fill="#0f0">Fil</text>
<text transform="translate(1370.8 550.4) rotate(0)" x="0" y="7.02" text-anchor="middle" font-family="'DejaVu Sans Condensed','Liberation Sans',sans-serif" font-size="19.5" fill="#0f0">Fil</text>
<text transform="translate(1272 640.6) rotate(0)" x="0" y="7.02" text-anchor="middle" font-family="'DejaVu Sans Condensed','Liberation Sans',sans-serif" font-size="19.5" fill="#0f0">Fil</text>
<text transform="translate(1614 541.9) rotate(0)" x="0" y="7.02" text-anchor="middle" font-family="'DejaVu Sans Condensed','Liberation Sans',sans-serif" font-size="19.5" fill="#0f0">Fil</text>
<text transform="translate(1487.5 586.9) rotate(0)" x="0" y="7.02" text-anchor="middle" font-family="'DejaVu Sans Condensed','Liberation Sans',sans-serif" font-size="19.5" fill="#0f0">Fil</text>
<text transform="translate(1911.3 542) rotate(0)" x="0" y="7.02" text-anchor="middle" font-family="'DejaVu Sans Condensed','Liberation Sans',sans-serif" font-size="19.5" fill="#0f0">Fil</text>
<text transform="translate(1740 587) rotate(0)" x="0" y="7.02" text-anchor="middle" font-family="'DejaVu Sans Condensed','Liberation Sans',sans-serif" font-size="19.5" fill="#0f0">Fil</text>
<text x="532.5" y="643" font-family="'DejaVu Sans Condensed','Liberation Sans',sans-serif" font-size="28" fill="#000">V5</text>
<text x="893.5" y="533.3" font-family="'DejaVu Sans Condensed','Liberation Sans',sans-serif" font-size="28" fill="#000">V4</text>
<text x="1387.5" y="596.4" font-family="'DejaVu Sans Condensed','Liberation Sans',sans-serif" font-size="28" fill="#000">V3</text>
<text x="1443" y="596.4" font-family="'DejaVu Sans Condensed','Liberation Sans',sans-serif" font-size="28" fill="#000">V2</text>
<text x="1876.5" y="596.4" font-family="'DejaVu Sans Condensed','Liberation Sans',sans-serif" font-size="28" fill="#000">V1</text>
<text transform="translate(1747.8 289.1) rotate(0)" x="0" y="5.4" text-anchor="middle" font-family="'DejaVu Sans Condensed','Liberation Sans',sans-serif" font-size="15" fill="#000">G</text>
<text transform="translate(1784.6 325.3) rotate(0)" x="0" y="5.4" text-anchor="middle" font-family="'DejaVu Sans Condensed','Liberation Sans',sans-serif" font-size="15" fill="#000">S</text>
<text transform="translate(1731.1 342.6) rotate(0)" x="0" y="5.4" text-anchor="middle" font-family="'DejaVu Sans Condensed','Liberation Sans',sans-serif" font-size="15" fill="#000">T</text>
<text transform="translate(1729.9 379.8) rotate(0)" x="0" y="5.4" text-anchor="middle" font-family="'DejaVu Sans Condensed','Liberation Sans',sans-serif" font-size="15" fill="#000">S</text>
<text transform="translate(1784.6 397.1) rotate(0)" x="0" y="5.4" text-anchor="middle" font-family="'DejaVu Sans Condensed','Liberation Sans',sans-serif" font-size="15" fill="#000">T</text>
<text transform="translate(1919.4 289.1) rotate(0)" x="0" y="5.4" text-anchor="middle" font-family="'DejaVu Sans Condensed','Liberation Sans',sans-serif" font-size="15" fill="#000">G</text>
<text transform="translate(1946.1 334.1) rotate(0)" x="0" y="5.4" text-anchor="middle" font-family="'DejaVu Sans Condensed','Liberation Sans',sans-serif" font-size="15" fill="#000">S</text>
<text transform="translate(1902.7 342.6) rotate(0)" x="0" y="5.4" text-anchor="middle" font-family="'DejaVu Sans Condensed','Liberation Sans',sans-serif" font-size="15" fill="#000">T</text>
<text transform="translate(1902 379.8) rotate(0)" x="0" y="5.4" text-anchor="middle" font-family="'DejaVu Sans Condensed','Liberation Sans',sans-serif" font-size="15" fill="#000">S</text>
<text transform="translate(1856.4 379.8) rotate(0)" x="0" y="5.4" text-anchor="middle" font-family="'DejaVu Sans Condensed','Liberation Sans',sans-serif" font-size="15" fill="#000">G</text>
<text transform="translate(1955.6 397.1) rotate(0)" x="0" y="5.4" text-anchor="middle" font-family="'DejaVu Sans Condensed','Liberation Sans',sans-serif" font-size="15" fill="#000">T</text>
<text x="1822.5" y="331.9" font-family="'DejaVu Sans Condensed','Liberation Sans',sans-serif" font-size="18.5" fill="#000" textLength="33.5" lengthAdjust="spacingAndGlyphs">1 Hi</text>
<text x="1812" y="404.3" font-family="'DejaVu Sans Condensed','Liberation Sans',sans-serif" font-size="18.5" fill="#000" textLength="36.5" lengthAdjust="spacingAndGlyphs">2 Lo</text>
<text x="1696" y="233.4" font-family="'DejaVu Sans Condensed','Liberation Sans',sans-serif" font-size="19.5" fill="#000" textLength="52" lengthAdjust="spacingAndGlyphs">Bright</text>
<text x="1861.5" y="233.4" font-family="'DejaVu Sans Condensed','Liberation Sans',sans-serif" font-size="19.5" fill="#000" textLength="62" lengthAdjust="spacingAndGlyphs">Normal</text>
<text x="1753.5" y="192.5" font-family="'DejaVu Sans Condensed','Liberation Sans',sans-serif" font-size="30" fill="#000" textLength="153.5" lengthAdjust="spacingAndGlyphs">Input Jacks</text>
<text x="1830" y="276.8" font-family="'DejaVu Sans','Liberation Sans',sans-serif" font-size="17.5" fill="#000" textLength="155.5" lengthAdjust="spacingAndGlyphs" font-weight="bold">Preamp Ground</text>
<text x="1007.5" y="1070.5" font-family="'DejaVu Sans Condensed','Liberation Sans',sans-serif" font-size="14.5" fill="#000" textLength="191" lengthAdjust="spacingAndGlyphs">V1.9 By RobRobinette.com</text>
<text x="1283" y="1070" font-family="'DejaVu Sans Condensed','Liberation Sans',sans-serif" font-size="13.5" fill="#000" textLength="228" lengthAdjust="spacingAndGlyphs">O Indicates Coupling Cap Outer Foil</text>
</svg>
</body></html>
